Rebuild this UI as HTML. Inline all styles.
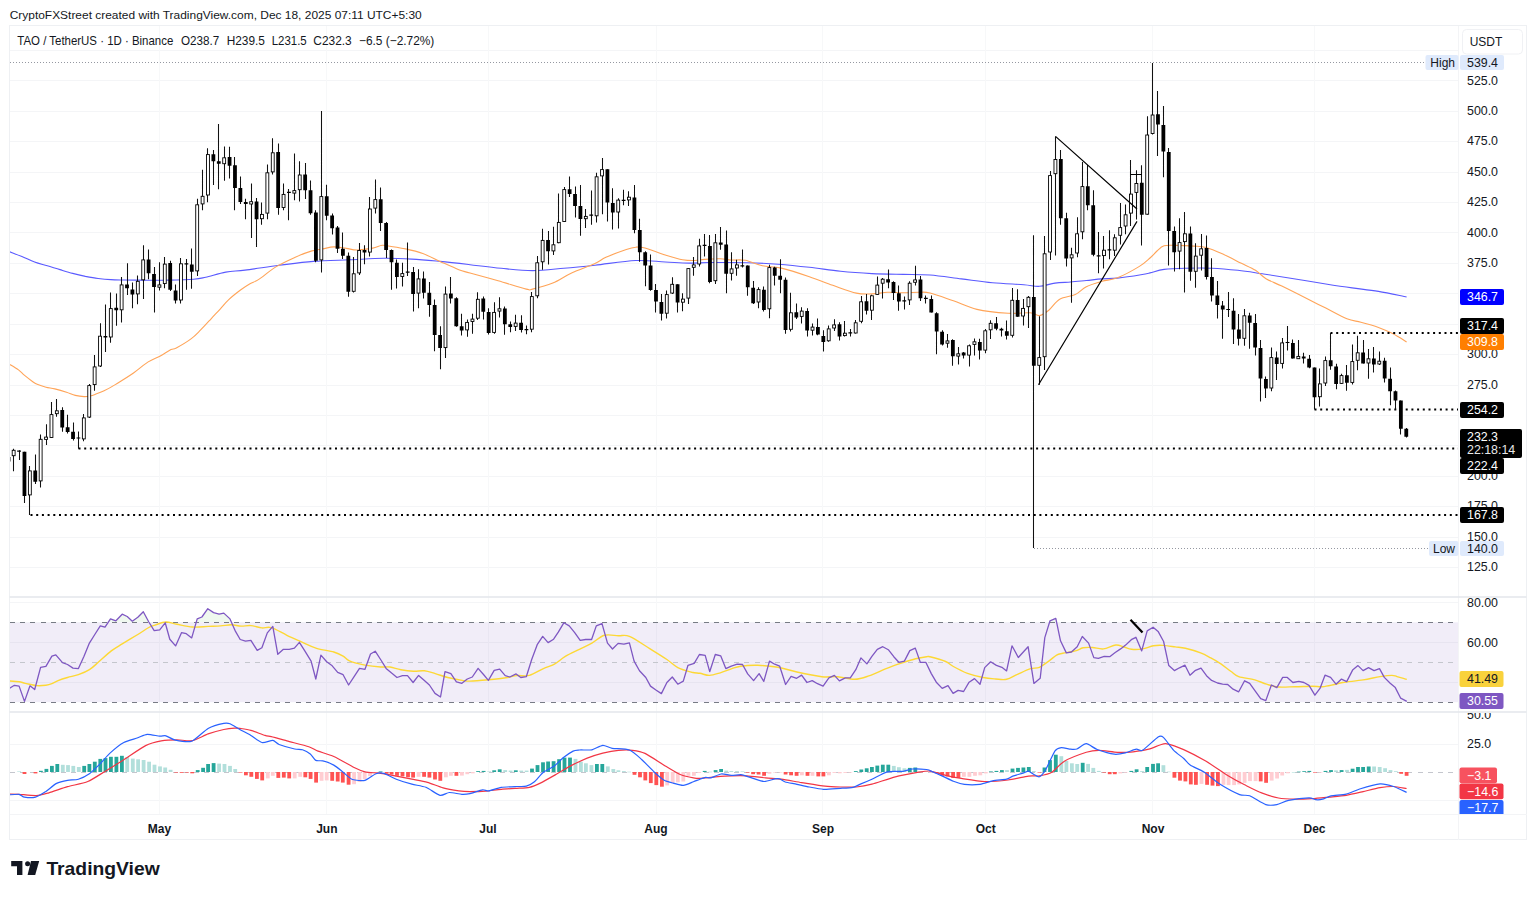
<!DOCTYPE html>
<html><head><meta charset="utf-8"><title>TAO / TetherUS chart</title>
<style>html,body{margin:0;padding:0;background:#fff;}body{width:1536px;height:897px;position:relative;overflow:hidden;font-family:"Liberation Sans",sans-serif;}</style>
</head><body>
<svg width="1536" height="897" viewBox="0 0 1536 897" style="position:absolute;left:0;top:0"><defs><clipPath id="cm"><rect x="10" y="26" width="1448" height="571"/></clipPath><clipPath id="cr"><rect x="10" y="598" width="1448" height="114"/></clipPath><clipPath id="cd"><rect x="10" y="713" width="1448" height="101"/></clipPath><clipPath id="cda"><rect x="1459" y="713" width="67" height="101"/></clipPath></defs><path d="M10 50.5H1458.5 M10 80.5H1458.5 M10 111.5H1458.5 M10 141.5H1458.5 M10 172.5H1458.5 M10 202.5H1458.5 M10 232.5H1458.5 M10 263.5H1458.5 M10 293.5H1458.5 M10 324.5H1458.5 M10 354.5H1458.5 M10 385.5H1458.5 M10 415.5H1458.5 M10 445.5H1458.5 M10 476.5H1458.5 M10 506.5H1458.5 M10 537.5H1458.5 M10 567.5H1458.5 M10 602.5H1458.5 M10 642.5H1458.5 M10 682.5H1458.5 M10 744.5H1458.5 M10 800.5H1458.5" stroke="#f4f5f7" stroke-width="1" fill="none" shape-rendering="crispEdges"/><path d="M159.5 26V814 M326.5 26V814 M488.5 26V814 M656.5 26V814 M822.5 26V814 M985.5 26V814 M1152.5 26V814 M1314.5 26V814" stroke="#f7f8f9" stroke-width="1" fill="none" shape-rendering="crispEdges"/><rect x="10" y="622.3" width="1448.5" height="79.9" fill="#7e57c2" fill-opacity="0.11"/><rect x="9.5" y="25.5" width="1517.0" height="814.0" fill="none" stroke="#eef0f3" stroke-width="1" shape-rendering="crispEdges"/><path d="M1458.5 25.5V839.5 M9.5 814.5H1526.5" stroke="#f3f4f6" stroke-width="1" shape-rendering="crispEdges"/><path d="M9.5 597H1526.5 M9.5 712H1526.5" stroke="#e3e6ec" stroke-width="1.6"/><path d="M10 622.5H1458 M10 702.5H1458" stroke="#787b86" stroke-width="1" stroke-dasharray="5 5.2" shape-rendering="crispEdges"/><path d="M10 662.5H1458" stroke="#c4c6cd" stroke-width="1" stroke-dasharray="5 5.2" shape-rendering="crispEdges"/><path d="M10 772.5H1458" stroke="#c4c6cd" stroke-width="1" stroke-dasharray="5 5.2" shape-rendering="crispEdges"/><path d="M10 62.5H1428" stroke="#9598a1" stroke-width="1" stroke-dasharray="1 2" shape-rendering="crispEdges"/><path d="M1034 548.5H1428" stroke="#9598a1" stroke-width="1" stroke-dasharray="1 2" shape-rendering="crispEdges"/><g clip-path="url(#cm)"><path d="M9.7,251.7C11.7,252.5 17.8,254.8 21.9,256.5C26.0,258.2 30.4,260.4 34.6,262.0C38.8,263.6 43.1,264.5 47.3,265.8C51.5,267.1 55.8,268.3 60.0,269.6C64.2,270.9 68.5,272.3 72.7,273.4C76.9,274.5 81.2,275.5 85.4,276.4C89.6,277.2 93.9,278.0 98.1,278.5C102.3,279.0 106.6,279.4 110.8,279.6C115.0,279.9 119.5,279.9 123.5,280.0C127.5,280.1 131.3,280.1 135.0,280.1C138.7,280.1 140.4,280.2 145.5,280.2C150.6,280.2 157.5,280.4 165.5,280.2C173.5,280.0 186.9,279.7 193.6,279.2C200.3,278.7 200.3,278.4 205.7,277.2C211.1,276.0 219.2,273.3 225.8,272.1C232.4,270.9 236.1,271.2 245.0,270.1C253.9,269.0 267.6,266.8 279.0,265.3C290.4,263.9 301.7,262.3 313.4,261.4C325.1,260.5 337.7,260.3 349.4,259.8C361.1,259.3 373.4,258.4 383.8,258.3C394.2,258.2 402.5,258.6 411.9,259.1C421.3,259.6 430.3,260.5 440.0,261.4C449.7,262.3 459.8,263.5 470.0,264.7C480.2,265.9 490.9,267.3 501.3,268.3C511.7,269.3 522.1,270.6 532.5,270.6C542.9,270.6 553.4,269.2 563.8,268.3C574.2,267.4 583.0,266.5 595.0,265.2C607.0,263.9 623.9,261.0 635.6,260.5C647.3,260.0 656.4,261.6 665.3,262.0C674.2,262.4 681.3,263.0 688.8,263.1C696.2,263.2 700.3,262.6 710.0,262.5C719.7,262.4 735.5,262.4 746.9,262.7C758.2,263.0 767.7,263.4 778.1,264.2C788.5,265.0 799.0,266.1 809.4,267.3C819.8,268.5 830.2,270.2 840.6,271.3C851.0,272.4 861.5,273.1 871.9,273.6C882.3,274.1 893.4,274.2 903.1,274.4C912.8,274.6 920.3,274.2 930.0,275.0C939.7,275.8 950.9,277.6 961.3,278.9C971.7,280.2 982.1,281.8 992.5,282.8C1002.9,283.8 1016.0,284.1 1023.8,284.7C1031.6,285.3 1034.2,286.6 1039.4,286.3C1044.6,286.0 1049.8,283.8 1055.0,283.1C1060.2,282.4 1065.4,282.4 1070.6,282.0C1075.8,281.6 1081.1,281.0 1086.3,280.5C1091.5,280.0 1096.7,279.3 1101.9,278.9C1107.1,278.5 1111.0,278.8 1117.5,278.1C1124.0,277.4 1135.5,275.6 1140.9,274.7C1146.3,273.8 1146.1,273.8 1150.0,272.9C1153.9,272.0 1158.2,270.2 1164.1,269.4C1170.0,268.6 1177.3,268.4 1185.2,268.2C1193.1,268.0 1202.7,267.8 1211.5,268.2C1220.3,268.6 1229.4,269.4 1237.9,270.3C1246.4,271.2 1253.7,272.5 1262.5,273.8C1271.3,275.1 1280.0,276.5 1290.6,278.2C1301.1,279.9 1315.5,282.4 1325.8,284.0C1336.0,285.6 1343.3,286.7 1352.1,287.9C1360.9,289.1 1369.4,289.9 1378.5,291.4C1387.6,292.9 1401.9,296.1 1406.6,297.0" fill="none" stroke="#5a5aff" stroke-width="1.1" stroke-linejoin="round" /><path d="M9.7,364.4C11.2,365.3 16.1,368.1 18.5,369.9C20.9,371.7 21.9,373.2 24.3,375.2C26.7,377.2 30.9,380.4 33.1,382.0C35.4,383.6 35.6,383.7 37.8,384.6C39.9,385.5 43.2,386.5 46.0,387.2C48.8,387.9 51.4,388.1 54.8,388.9C58.2,389.7 63.1,391.1 66.5,392.2C69.9,393.3 72.4,394.7 75.3,395.4C78.2,396.1 81.6,396.5 84.1,396.6C86.5,396.7 88.2,396.4 90.0,396.0C91.8,395.6 92.7,395.3 95.0,394.4C97.3,393.5 100.6,392.5 104.1,390.8C107.6,389.1 111.2,387.1 116.1,384.1C121.0,381.1 128.2,376.7 133.5,373.0C138.8,369.3 143.7,364.7 148.2,361.9C152.7,359.1 156.5,358.1 160.3,356.0C164.1,353.9 168.3,350.9 171.0,349.6C173.7,348.3 173.0,349.8 176.3,348.0C179.6,346.2 187.0,341.9 191.0,338.9C195.0,335.9 197.1,333.5 200.4,330.2C203.8,326.9 207.8,322.4 211.1,318.8C214.4,315.2 217.5,312.0 220.4,308.8C223.3,305.6 225.2,302.9 228.5,299.8C231.8,296.7 236.9,292.7 240.5,290.0C244.1,287.3 246.9,285.5 250.0,283.7C253.1,281.9 254.5,282.2 258.8,279.4C263.1,276.6 269.9,270.5 275.9,266.9C281.9,263.2 288.7,260.2 294.7,257.5C300.7,254.8 307.2,252.3 311.9,250.9C316.6,249.5 319.1,249.6 322.8,248.9C326.5,248.2 329.9,247.0 333.8,246.9C337.7,246.8 342.4,247.9 346.3,248.4C350.2,248.9 352.8,250.1 357.2,250.0C361.6,249.9 368.6,248.9 372.8,248.1C377.0,247.3 379.3,245.6 382.2,245.3C385.1,245.0 386.1,245.7 390.0,246.3C393.9,246.9 400.1,247.7 405.6,248.9C411.1,250.1 417.1,251.5 422.8,253.6C428.5,255.7 434.0,258.7 440.0,261.4C446.0,264.1 453.8,267.8 458.8,269.7C463.8,271.6 463.4,271.1 470.0,273.0C476.6,274.9 488.7,278.1 498.1,280.8C507.5,283.5 520.6,287.7 526.3,289.1C532.0,290.5 528.1,290.1 532.5,289.1C536.9,288.1 546.3,285.8 552.8,283.1C559.3,280.4 564.6,276.2 571.6,273.0C578.6,269.8 589.3,266.2 595.0,263.6C600.7,261.0 600.7,259.7 605.9,257.3C611.1,255.0 621.3,251.2 626.3,249.5C631.2,247.8 632.5,247.4 635.6,247.2C638.7,246.9 640.0,246.7 645.0,248.0C650.0,249.3 659.0,253.1 665.3,255.0C671.5,256.9 677.5,258.8 682.5,259.7C687.5,260.6 691.4,260.6 695.0,260.5C698.6,260.4 700.2,259.7 704.4,259.4C708.6,259.1 715.8,258.7 720.3,258.8C724.8,258.9 727.1,259.8 731.3,260.0C735.5,260.2 740.1,259.3 745.3,260.3C750.5,261.3 756.5,264.5 762.5,265.8C768.5,267.1 773.5,266.3 781.3,268.1C789.1,269.9 800.8,273.8 809.4,276.7C818.0,279.6 825.0,282.6 832.8,285.3C840.6,288.0 849.8,291.7 856.3,293.1C862.8,294.5 866.7,294.0 871.9,293.9C877.1,293.8 882.3,292.5 887.5,292.3C892.7,292.1 897.9,292.8 903.1,292.8C908.3,292.8 914.3,292.3 918.8,292.3C923.3,292.3 924.2,291.6 930.0,293.0C935.8,294.4 945.6,298.1 953.4,300.8C961.2,303.5 967.8,307.3 976.9,309.4C986.0,311.5 999.2,312.7 1008.1,313.3C1017.0,313.9 1024.8,312.4 1030.0,312.8C1035.2,313.2 1036.3,316.0 1039.4,315.6C1042.5,315.2 1045.4,312.9 1048.8,310.2C1052.2,307.5 1055.3,301.8 1059.7,299.2C1064.1,296.6 1070.9,296.6 1075.3,294.5C1079.7,292.4 1081.9,288.9 1086.3,286.7C1090.7,284.5 1096.7,282.8 1101.9,281.3C1107.1,279.8 1111.2,280.3 1117.5,277.8C1123.8,275.3 1134.0,269.7 1139.4,266.4C1144.8,263.1 1147.1,260.6 1150.0,258.0C1152.9,255.4 1154.7,253.1 1157.0,251.0C1159.3,248.9 1160.9,246.6 1164.1,245.7C1167.3,244.8 1171.4,245.3 1176.4,245.4C1181.4,245.5 1188.9,245.8 1193.9,246.1C1198.9,246.4 1201.2,246.1 1206.2,247.5C1211.2,248.9 1217.9,251.9 1223.8,254.5C1229.7,257.1 1236.1,260.7 1241.4,263.3C1246.7,265.9 1251.4,267.7 1255.5,270.3C1259.6,272.9 1261.6,276.1 1266.0,278.7C1270.4,281.3 1274.8,282.7 1281.8,286.1C1288.8,289.5 1300.9,295.6 1308.2,299.3C1315.5,303.0 1319.3,304.9 1325.8,308.1C1332.2,311.3 1341.1,316.4 1346.9,318.7C1352.8,321.0 1355.6,320.8 1360.9,322.2C1366.2,323.6 1373.2,325.5 1378.5,327.4C1383.8,329.3 1387.9,331.2 1392.6,333.6C1397.3,336.0 1404.3,340.6 1406.6,342.0" fill="none" stroke="#ffa458" stroke-width="1.1" stroke-linejoin="round" /><path d="M78.5 448.5H1458 M30.5 515H1458 M1314.5 409.6H1458 M1330.5 333H1458" stroke="#000" stroke-width="2" stroke-dasharray="2 3.7" fill="none"/><path d="M13.5 448.7V471.3 M19.5 450.3V460.0 M24.5 451.7V502.9 M29.5 466.0V514.9 M35.5 454.4V484.0 M40.5 434.4V487.5 M46.5 424.3V444.9 M51.5 402.0V437.9 M56.5 399.0V416.8 M62.5 407.3V431.8 M67.5 414.8V433.6 M73.5 422.4V440.4 M78.5 431.4V448.7 M83.5 414.1V441.2 M89.5 384.0V418.0 M94.5 355.0V390.8 M100.5 323.3V367.0 M105.5 304.6V351.9 M110.5 292.5V342.8 M116.5 293.6V325.8 M121.5 277.0V322.6 M127.5 263.3V295.1 M132.5 282.4V308.2 M137.5 275.6V304.2 M143.5 245.3V298.9 M148.5 249.5V279.2 M154.5 267.1V312.5 M159.5 262.2V290.4 M164.5 256.9V288.3 M170.5 260.7V291.0 M175.5 284.5V303.6 M180.5 258.0V303.6 M186.5 259.0V289.8 M191.5 248.5V288.7 M197.5 198.7V276.0 M202.5 169.7V210.3 M207.5 148.3V202.3 M213.5 150.0V184.9 M218.5 123.9V189.2 M224.5 146.4V180.7 M229.5 146.8V178.6 M234.5 157.0V210.3 M240.5 176.4V204.0 M245.5 198.7V219.2 M251.5 183.5V238.1 M256.5 198.0V247.0 M261.5 202.5V224.7 M267.5 164.6V219.2 M272.5 138.3V174.6 M278.5 143.4V214.7 M283.5 183.5V210.3 M288.5 189.1V220.3 M294.5 153.5V200.2 M299.5 161.3V201.4 M305.5 163.0V199.1 M310.5 180.6V214.7 M315.5 210.3V262.2 M321.5 111.1V272.6 M326.5 184.7V220.3 M332.5 213.6V234.6 M337.5 226.1V253.0 M342.5 232.5V259.0 M348.5 252.6V296.7 M353.5 256.9V292.5 M359.5 243.1V274.9 M364.5 245.2V264.3 M369.5 197.1V256.4 M375.5 179.5V213.4 M380.5 187.4V231.0 M386.5 221.9V257.9 M391.5 249.4V289.7 M396.5 259.4V288.6 M402.5 262.8V286.5 M407.5 242.5V275.9 M413.5 267.0V311.5 M418.5 269.3V308.3 M423.5 271.5V298.6 M429.5 281.9V316.7 M434.5 299.4V351.3 M440.5 326.2V369.2 M445.5 286.6V358.0 M450.5 276.9V303.6 M456.5 297.3V326.7 M461.5 313.7V335.4 M467.5 319.5V336.7 M472.5 313.7V333.7 M477.5 292.2V320.0 M483.5 296.6V319.5 M488.5 308.3V334.6 M494.5 302.3V333.7 M499.5 297.2V317.4 M504.5 306.4V334.7 M510.5 321.6V332.2 M515.5 314.8V331.1 M521.5 315.3V332.6 M526.5 325.4V334.3 M531.5 292.0V332.2 M537.5 255.9V298.3 M542.5 228.8V269.7 M548.5 230.9V264.4 M553.5 226.7V254.9 M558.5 193.4V243.2 M564.5 187.1V222.0 M569.5 176.5V197.0 M575.5 186.4V217.4 M580.5 185.0V235.8 M585.5 208.9V227.9 M591.5 190.4V224.7 M596.5 172.8V222.6 M602.5 158.0V214.2 M607.5 169.2V221.6 M612.5 188.3V229.4 M618.5 198.3V228.6 M623.5 189.8V205.3 M628.5 191.3V206.1 M634.5 184.9V233.2 M639.5 218.8V261.8 M645.5 251.2V286.2 M650.5 254.4V290.8 M655.5 284.1V312.6 M661.5 293.9V320.6 M666.5 290.6V318.6 M672.5 277.2V293.9 M677.5 284.3V312.6 M682.5 293.2V311.3 M688.5 268.2V303.9 M693.5 257.1V275.8 M699.5 238.8V266.5 M704.5 234.0V256.5 M709.5 235.1V283.2 M715.5 234.0V283.9 M720.5 227.0V249.8 M726.5 230.4V293.2 M731.5 252.2V280.5 M736.5 259.8V275.8 M742.5 249.6V267.6 M747.5 265.5V295.8 M753.5 281.1V303.9 M758.5 287.2V308.3 M763.5 286.5V311.5 M769.5 264.7V318.2 M774.5 266.8V285.5 M780.5 259.3V293.2 M785.5 277.5V333.7 M790.5 292.8V331.5 M796.5 303.5V319.0 M801.5 307.2V323.5 M807.5 308.3V336.4 M812.5 323.5V335.6 M817.5 318.6V335.2 M823.5 330.2V351.4 M828.5 325.4V341.7 M834.5 319.3V330.9 M839.5 322.3V340.5 M844.5 320.9V336.4 M850.5 329.1V336.4 M855.5 320.1V333.4 M861.5 296.0V323.3 M866.5 294.1V314.4 M871.5 294.8V319.9 M877.5 276.4V295.1 M882.5 278.0V298.4 M888.5 269.4V288.3 M893.5 281.3V300.0 M898.5 285.6V310.7 M904.5 296.5V309.4 M909.5 281.2V305.1 M915.5 265.8V285.6 M920.5 276.0V301.0 M925.5 295.6V303.6 M931.5 295.6V312.6 M936.5 312.3V354.2 M942.5 330.3V345.6 M947.5 334.1V347.8 M952.5 339.2V365.8 M958.5 346.9V364.5 M963.5 352.0V358.5 M969.5 344.6V366.4 M974.5 338.5V355.5 M979.5 338.7V359.6 M985.5 329.0V353.3 M990.5 320.2V338.9 M996.5 317.0V330.3 M1001.5 327.8V336.4 M1006.5 320.5V339.5 M1012.5 288.0V337.6 M1017.5 289.2V316.8 M1023.5 299.0V325.4 M1028.5 295.9V328.1 M1033.5 235.2V548.0 M1039.5 316.2V384.8 M1044.5 236.0V370.1 M1050.5 171.1V260.0 M1055.5 136.4V255.5 M1060.5 150.1V224.7 M1066.5 212.7V266.5 M1071.5 247.8V302.8 M1077.5 217.3V257.3 M1082.5 162.1V239.3 M1087.5 165.1V210.3 M1093.5 190.2V256.3 M1098.5 231.9V273.2 M1103.5 236.1V268.5 M1109.5 230.3V259.2 M1114.5 234.2V256.1 M1120.5 203.0V244.4 M1125.5 204.6V234.2 M1130.5 160.1V226.1 M1136.5 170.3V219.4 M1141.5 165.3V245.5 M1147.5 116.3V214.7 M1152.5 63.0V134.6 M1157.5 90.9V156.1 M1163.5 106.1V177.3 M1168.5 148.0V265.4 M1174.5 226.4V271.4 M1179.5 218.3V269.2 M1184.5 212.0V292.4 M1190.5 226.5V280.7 M1195.5 243.2V287.7 M1201.5 233.9V270.5 M1206.5 235.4V279.6 M1211.5 258.3V301.4 M1217.5 281.1V318.6 M1222.5 300.9V338.8 M1228.5 292.0V317.0 M1233.5 298.3V344.0 M1238.5 314.0V345.5 M1244.5 309.1V345.7 M1249.5 312.7V348.8 M1255.5 314.0V355.5 M1260.5 340.1V401.6 M1265.5 376.5V397.9 M1271.5 347.5V391.2 M1276.5 351.5V380.0 M1282.5 338.1V368.5 M1287.5 326.1V350.5 M1292.5 339.4V358.6 M1298.5 340.1V359.1 M1303.5 352.8V363.5 M1309.5 355.1V368.2 M1314.5 367.5V409.5 M1319.5 368.5V406.6 M1325.5 356.4V385.9 M1330.5 333.0V369.8 M1336.5 363.8V389.2 M1341.5 373.8V383.9 M1346.5 364.9V390.8 M1352.5 344.4V384.5 M1357.5 335.7V370.2 M1363.5 340.0V363.5 M1368.5 349.1V378.8 M1373.5 347.1V372.5 M1379.5 351.5V364.9 M1384.5 357.8V382.5 M1390.5 367.5V405.3 M1395.5 390.5V409.5 M1400.5 400.6V434.4 M1406.5 428.0V437.4" stroke="#111" stroke-width="1.05" fill="none"/><g fill="#fff" stroke="#000" stroke-width="0.9"><rect x="12.21" y="450.3" width="2.90" height="5.4"/><rect x="28.41" y="470.9" width="2.90" height="24.0"/><rect x="39.20" y="439.3" width="2.90" height="41.6"/><rect x="44.60" y="437.1" width="2.90" height="2.3"/><rect x="50.00" y="414.6" width="2.90" height="22.9"/><rect x="55.39" y="410.8" width="2.90" height="2.9"/><rect x="82.38" y="417.9" width="2.90" height="21.0"/><rect x="87.78" y="385.6" width="2.90" height="31.5"/><rect x="93.18" y="366.9" width="2.90" height="17.7"/><rect x="98.58" y="336.2" width="2.90" height="29.8"/><rect x="109.37" y="308.6" width="2.90" height="28.4"/><rect x="120.17" y="284.9" width="2.90" height="24.9"/><rect x="136.36" y="281.3" width="2.90" height="12.6"/><rect x="141.76" y="259.9" width="2.90" height="19.9"/><rect x="157.95" y="284.9" width="2.90" height="2.3"/><rect x="163.35" y="264.1" width="2.90" height="19.5"/><rect x="179.54" y="263.8" width="2.90" height="36.2"/><rect x="195.73" y="204.8" width="2.90" height="66.1"/><rect x="201.13" y="196.3" width="2.90" height="7.6"/><rect x="206.53" y="154.6" width="2.90" height="40.4"/><rect x="222.72" y="157.8" width="2.90" height="5.9"/><rect x="249.71" y="201.7" width="2.90" height="2.3"/><rect x="260.51" y="214.4" width="2.90" height="4.3"/><rect x="265.90" y="172.8" width="2.90" height="40.3"/><rect x="271.30" y="152.8" width="2.90" height="19.1"/><rect x="282.10" y="194.4" width="2.90" height="13.1"/><rect x="292.89" y="190.6" width="2.90" height="2.5"/><rect x="298.29" y="175.0" width="2.90" height="14.7"/><rect x="319.88" y="196.6" width="2.90" height="63.3"/><rect x="352.27" y="273.8" width="2.90" height="17.5"/><rect x="357.66" y="250.5" width="2.90" height="22.4"/><rect x="368.46" y="209.0" width="2.90" height="43.1"/><rect x="373.86" y="199.6" width="2.90" height="8.5"/><rect x="400.85" y="273.6" width="2.90" height="2.9"/><rect x="417.04" y="278.9" width="2.90" height="14.2"/><rect x="444.03" y="294.1" width="2.90" height="53.5"/><rect x="465.62" y="322.4" width="2.90" height="7.5"/><rect x="471.02" y="319.1" width="2.90" height="2.4"/><rect x="476.41" y="299.3" width="2.90" height="18.9"/><rect x="492.61" y="312.4" width="2.90" height="20.0"/><rect x="498.01" y="308.8" width="2.90" height="2.3"/><rect x="514.20" y="323.1" width="2.90" height="3.3"/><rect x="530.39" y="296.6" width="2.90" height="32.6"/><rect x="535.79" y="262.8" width="2.90" height="33.0"/><rect x="541.19" y="240.4" width="2.90" height="21.4"/><rect x="551.98" y="244.8" width="2.90" height="6.1"/><rect x="557.38" y="222.4" width="2.90" height="20.3"/><rect x="562.78" y="189.6" width="2.90" height="31.9"/><rect x="584.37" y="216.4" width="2.90" height="2.3"/><rect x="595.16" y="176.8" width="2.90" height="39.0"/><rect x="600.56" y="169.6" width="2.90" height="6.3"/><rect x="616.75" y="200.1" width="2.90" height="11.9"/><rect x="627.55" y="197.2" width="2.90" height="2.7"/><rect x="665.33" y="294.6" width="2.90" height="18.6"/><rect x="670.73" y="284.3" width="2.90" height="8.8"/><rect x="681.53" y="299.1" width="2.90" height="3.1"/><rect x="686.92" y="268.6" width="2.90" height="29.5"/><rect x="692.32" y="264.9" width="2.90" height="2.4"/><rect x="697.72" y="245.9" width="2.90" height="18.1"/><rect x="713.91" y="242.8" width="2.90" height="37.9"/><rect x="730.11" y="268.9" width="2.90" height="4.4"/><rect x="735.50" y="264.9" width="2.90" height="3.1"/><rect x="757.09" y="289.6" width="2.90" height="12.4"/><rect x="767.89" y="267.6" width="2.90" height="41.2"/><rect x="789.48" y="312.8" width="2.90" height="16.5"/><rect x="800.28" y="311.1" width="2.90" height="5.3"/><rect x="811.07" y="327.1" width="2.90" height="3.1"/><rect x="827.26" y="328.9" width="2.90" height="11.9"/><rect x="832.66" y="324.9" width="2.90" height="3.1"/><rect x="843.46" y="333.2" width="2.90" height="2.4"/><rect x="854.25" y="322.8" width="2.90" height="10.2"/><rect x="859.65" y="301.8" width="2.90" height="19.5"/><rect x="870.45" y="295.8" width="2.90" height="14.4"/><rect x="875.84" y="285.1" width="2.90" height="9.3"/><rect x="881.24" y="279.2" width="2.90" height="4.0"/><rect x="908.23" y="283.2" width="2.90" height="16.7"/><rect x="913.63" y="279.9" width="2.90" height="2.4"/><rect x="946.01" y="340.9" width="2.90" height="2.3"/><rect x="956.81" y="353.8" width="2.90" height="2.3"/><rect x="967.61" y="345.8" width="2.90" height="9.3"/><rect x="973.00" y="341.8" width="2.90" height="2.6"/><rect x="983.80" y="330.8" width="2.90" height="19.3"/><rect x="989.20" y="323.3" width="2.90" height="6.5"/><rect x="1010.79" y="300.3" width="2.90" height="35.0"/><rect x="1021.58" y="308.4" width="2.90" height="7.6"/><rect x="1026.98" y="297.3" width="2.90" height="9.4"/><rect x="1037.78" y="357.6" width="2.90" height="7.7"/><rect x="1043.17" y="253.8" width="2.90" height="102.9"/><rect x="1048.57" y="175.6" width="2.90" height="76.4"/><rect x="1053.97" y="159.5" width="2.90" height="14.2"/><rect x="1070.16" y="254.8" width="2.90" height="3.1"/><rect x="1075.56" y="233.8" width="2.90" height="19.2"/><rect x="1080.96" y="186.6" width="2.90" height="45.2"/><rect x="1102.55" y="250.2" width="2.90" height="5.4"/><rect x="1113.34" y="237.8" width="2.90" height="12.4"/><rect x="1118.74" y="227.6" width="2.90" height="7.7"/><rect x="1124.14" y="214.8" width="2.90" height="11.2"/><rect x="1129.54" y="194.1" width="2.90" height="19.0"/><rect x="1134.93" y="183.5" width="2.90" height="8.9"/><rect x="1145.73" y="135.0" width="2.90" height="79.2"/><rect x="1151.13" y="115.0" width="2.90" height="18.5"/><rect x="1178.12" y="242.6" width="2.90" height="8.5"/><rect x="1183.51" y="233.8" width="2.90" height="7.8"/><rect x="1194.31" y="256.1" width="2.90" height="15.2"/><rect x="1199.71" y="248.8" width="2.90" height="6.4"/><rect x="1242.89" y="315.8" width="2.90" height="22.5"/><rect x="1269.88" y="357.6" width="2.90" height="30.4"/><rect x="1280.67" y="342.9" width="2.90" height="20.5"/><rect x="1296.86" y="356.4" width="2.90" height="2.3"/><rect x="1318.46" y="383.9" width="2.90" height="12.8"/><rect x="1323.85" y="360.6" width="2.90" height="22.4"/><rect x="1340.05" y="375.6" width="2.90" height="7.8"/><rect x="1350.84" y="361.6" width="2.90" height="20.8"/><rect x="1356.24" y="352.8" width="2.90" height="7.5"/><rect x="1367.03" y="358.8" width="2.90" height="4.2"/><rect x="1377.83" y="361.2" width="2.90" height="2.8"/></g><path d="M17.16 450.6h3.8v1.2h-3.8z M22.56 451.7h3.8V496.1h-3.8z M33.35 470.5h3.8V481.8h-3.8z M60.34 409.9h3.8V427.6h-3.8z M65.74 427.3h3.8V432.1h-3.8z M71.14 431.8h3.8V438.9h-3.8z M76.53 437.4h3.8v1.2h-3.8z M103.52 336.0h3.8V337.5h-3.8z M114.32 307.8h3.8V310.3h-3.8z M125.11 284.5h3.8V288.3h-3.8z M130.51 289.4h3.8V294.4h-3.8z M146.70 259.5h3.8V273.3h-3.8z M152.10 273.9h3.8V287.0h-3.8z M168.30 263.0h3.8V289.8h-3.8z M173.69 290.4h3.8V300.4h-3.8z M184.49 263.2h3.8v1.2h-3.8z M189.89 264.4h3.8V271.8h-3.8z M211.48 154.2h3.8V161.2h-3.8z M216.87 161.2h3.8V163.7h-3.8z M227.67 157.0h3.8V165.8h-3.8z M233.07 165.2h3.8V188.1h-3.8z M238.47 188.1h3.8V201.9h-3.8z M243.86 201.9h3.8V204.0h-3.8z M254.66 201.4h3.8V219.2h-3.8z M276.25 151.9h3.8V208.0h-3.8z M287.04 191.8h3.8v1.2h-3.8z M303.24 174.6h3.8V190.2h-3.8z M308.64 190.2h3.8V213.2h-3.8z M314.03 212.5h3.8V260.8h-3.8z M324.83 196.2h3.8V215.8h-3.8z M330.23 215.5h3.8V228.3h-3.8z M335.62 227.6h3.8V248.8h-3.8z M341.02 248.8h3.8V255.8h-3.8z M346.42 255.8h3.8V291.8h-3.8z M362.61 250.1h3.8V252.6h-3.8z M378.81 199.2h3.8V223.0h-3.8z M384.20 223.0h3.8V250.1h-3.8z M389.60 250.1h3.8V262.2h-3.8z M395.00 262.8h3.8V277.0h-3.8z M405.79 271.5h3.8v1.2h-3.8z M411.19 272.1h3.8V293.9h-3.8z M421.99 278.5h3.8V292.7h-3.8z M427.38 292.7h3.8V305.0h-3.8z M432.78 305.0h3.8V335.1h-3.8z M438.18 335.1h3.8V348.0h-3.8z M448.98 293.6h3.8V298.6h-3.8z M454.37 298.3h3.8V326.2h-3.8z M459.77 326.2h3.8V330.4h-3.8z M481.36 298.6h3.8V311.7h-3.8z M486.76 312.0h3.8V332.9h-3.8z M502.95 308.5h3.8V324.2h-3.8z M508.35 324.2h3.8V326.9h-3.8z M519.15 322.7h3.8V330.1h-3.8z M524.54 329.1h3.8v1.2h-3.8z M546.13 240.0h3.8V251.3h-3.8z M567.73 189.2h3.8V194.1h-3.8z M573.12 194.1h3.8V206.1h-3.8z M578.52 206.1h3.8V218.9h-3.8z M589.32 214.6h3.8v1.2h-3.8z M605.51 169.2h3.8V202.5h-3.8z M610.91 203.1h3.8V212.5h-3.8z M621.70 199.7h3.8v1.2h-3.8z M632.50 197.6h3.8V230.0h-3.8z M637.90 230.0h3.8V252.3h-3.8z M643.29 252.3h3.8V265.4h-3.8z M648.69 265.4h3.8V290.0h-3.8z M654.09 290.0h3.8V301.4h-3.8z M659.49 301.9h3.8V313.7h-3.8z M675.68 284.3h3.8V302.6h-3.8z M702.67 244.7h3.8V246.0h-3.8z M708.07 246.0h3.8V281.9h-3.8z M718.86 242.4h3.8V244.7h-3.8z M724.26 244.4h3.8V273.8h-3.8z M740.45 265.3h3.8v1.2h-3.8z M745.85 265.5h3.8V287.2h-3.8z M751.25 287.8h3.8V303.2h-3.8z M762.04 289.8h3.8V309.9h-3.8z M772.84 267.4h3.8V275.8h-3.8z M778.24 275.8h3.8V279.8h-3.8z M783.63 279.8h3.8V329.9h-3.8z M794.43 312.3h3.8V317.6h-3.8z M805.22 311.0h3.8V330.6h-3.8z M816.02 327.0h3.8V334.6h-3.8z M821.42 336.0h3.8V342.0h-3.8z M837.61 324.2h3.8V336.4h-3.8z M848.41 332.2h3.8v1.2h-3.8z M864.60 301.3h3.8V310.7h-3.8z M886.19 279.2h3.8V282.5h-3.8z M891.59 282.1h3.8V292.9h-3.8z M896.98 293.2h3.8V301.5h-3.8z M902.38 300.2h3.8v1.2h-3.8z M918.58 279.5h3.8V298.2h-3.8z M923.97 297.8h3.8v1.2h-3.8z M929.37 299.1h3.8V312.6h-3.8z M934.77 313.2h3.8V331.5h-3.8z M940.17 331.8h3.8V344.6h-3.8z M950.96 340.1h3.8V356.2h-3.8z M961.76 352.6h3.8V355.5h-3.8z M977.95 342.0h3.8V350.5h-3.8z M994.14 323.2h3.8V328.8h-3.8z M999.54 328.8h3.8V330.5h-3.8z M1004.94 331.3h3.8V335.8h-3.8z M1015.73 299.9h3.8V316.8h-3.8z M1031.93 296.9h3.8V365.8h-3.8z M1058.92 159.1h3.8V218.3h-3.8z M1064.31 218.3h3.8V258.5h-3.8z M1085.90 186.2h3.8V205.2h-3.8z M1091.30 205.2h3.8V254.8h-3.8z M1096.70 255.2h3.8v1.2h-3.8z M1107.50 249.2h3.8v1.2h-3.8z M1139.88 182.8h3.8V214.7h-3.8z M1156.07 114.2h3.8V124.6h-3.8z M1161.47 124.9h3.8V151.6h-3.8z M1166.87 152.0h3.8V231.1h-3.8z M1172.27 231.1h3.8V252.2h-3.8z M1188.46 233.4h3.8V271.8h-3.8z M1204.65 247.9h3.8V277.1h-3.8z M1210.05 277.1h3.8V295.5h-3.8z M1215.45 295.5h3.8V305.1h-3.8z M1220.85 305.6h3.8V309.5h-3.8z M1226.24 308.9h3.8v1.2h-3.8z M1231.64 310.8h3.8V329.6h-3.8z M1237.04 329.4h3.8V338.8h-3.8z M1247.84 315.4h3.8V322.7h-3.8z M1253.23 323.0h3.8V347.5h-3.8z M1258.63 348.1h3.8V378.6h-3.8z M1264.03 378.9h3.8V388.5h-3.8z M1274.82 357.5h3.8V363.9h-3.8z M1285.62 341.9h3.8v1.2h-3.8z M1291.02 343.1h3.8V358.6h-3.8z M1301.81 356.4h3.8V358.6h-3.8z M1307.21 358.8h3.8V367.5h-3.8z M1312.61 367.5h3.8V397.2h-3.8z M1328.80 360.2h3.8V366.2h-3.8z M1334.20 366.5h3.8V383.9h-3.8z M1344.99 375.2h3.8V382.8h-3.8z M1361.19 352.4h3.8V363.5h-3.8z M1371.98 358.4h3.8V364.5h-3.8z M1382.78 360.8h3.8V378.5h-3.8z M1388.18 378.8h3.8V391.2h-3.8z M1393.57 391.2h3.8V400.6h-3.8z M1398.97 400.6h3.8V428.7h-3.8z M1404.37 428.7h3.8V436.7h-3.8z" fill="#000"/><rect x="9.4" y="457" width="1.4" height="4.5" fill="#777"/><path d="M1055.5 136.4L1137 209 M1038.5 384.8L1137 221.4 M1130.5 174.5H1142" stroke="#000" stroke-width="1.2" fill="none"/></g><g clip-path="url(#cr)"><clipPath id="ob"><rect x="10" y="598" width="1448" height="24.3"/></clipPath><polygon points="9.4,688.4 14.4,685.3 19.1,686.1 24.5,701.4 30.0,685.8 34.7,689.5 40.6,667.3 45.9,666.4 51.9,656.1 55.8,654.8 62.5,662.6 67.5,664.5 73.0,668.1 78.4,668.6 83.9,656.4 89.4,643.1 94.8,634.5 100.3,625.9 105.0,627.2 110.5,618.9 115.9,620.8 122.2,614.2 127.2,616.5 132.3,621.2 137.8,617.3 143.3,611.8 148.8,622.0 154.2,630.6 159.7,629.8 165.2,622.8 169.8,639.2 175.6,645.9 181.6,632.6 186.3,633.7 191.7,637.9 197.2,618.9 201.9,617.0 207.8,608.7 213.6,612.6 219.1,614.2 223.8,613.1 230.0,618.9 235.5,631.4 240.2,639.5 245.5,641.2 250.9,640.4 257.2,650.4 261.9,647.8 267.3,632.9 272.8,626.4 277.8,654.3 283.4,649.3 289.2,649.3 294.4,648.1 299.4,642.3 304.8,650.9 311.1,661.1 315.8,679.0 320.9,655.1 326.7,661.8 332.2,665.8 337.7,672.3 343.1,674.7 348.6,685.0 354.1,676.7 359.5,668.4 365.0,669.3 370.5,654.0 375.2,651.2 380.6,659.5 386.1,668.4 391.6,673.1 397.0,677.5 402.5,675.6 407.5,675.6 413.1,682.5 418.6,675.4 424.1,680.3 429.4,685.0 435.0,693.4 440.5,697.0 445.0,671.7 450.9,673.6 456.4,681.8 461.9,683.3 467.3,679.0 472.3,677.0 478.1,668.4 483.3,674.3 488.4,680.3 494.2,670.4 499.7,669.2 505.2,675.6 509.8,677.0 516.1,673.9 520.8,677.5 526.3,676.7 531.7,659.5 537.2,644.7 542.7,636.4 548.1,642.6 553.6,639.2 558.3,632.2 563.8,622.8 569.2,625.9 574.7,632.6 580.2,640.4 585.6,639.5 591.6,639.5 596.3,625.9 602.0,623.6 607.5,643.1 612.5,649.0 618.1,643.4 623.9,644.2 629.4,642.8 634.1,661.1 639.5,670.8 645.8,677.5 650.5,686.1 655.9,690.0 661.4,693.6 666.9,682.5 672.3,677.0 677.8,684.2 683.3,681.1 688.0,665.3 694.2,663.4 699.4,654.5 705.2,655.3 709.7,671.7 715.3,654.5 720.8,655.9 725.8,668.6 731.3,666.1 737.2,664.2 742.5,664.5 747.7,673.9 753.6,680.6 759.1,673.6 763.8,681.4 769.5,661.1 774.7,664.2 779.7,666.2 785.6,684.5 791.1,676.4 796.6,678.3 801.6,675.1 807.0,682.5 812.2,680.6 817.5,683.7 823.1,686.1 828.9,677.9 834.4,675.4 839.4,680.9 845.3,677.9 850.3,677.9 855.8,669.7 860.9,657.9 866.9,663.9 871.9,656.4 877.3,649.3 882.8,646.7 888.3,649.7 893.8,656.7 898.8,662.3 904.4,661.1 909.8,650.6 915.3,648.1 920.3,662.3 925.8,662.3 931.3,673.6 936.3,682.2 942.2,688.4 948.0,685.6 953.1,693.4 958.1,690.4 963.6,691.5 969.1,682.2 974.5,678.6 980.0,684.2 984.7,667.6 990.6,661.8 996.4,665.4 1001.9,667.3 1006.6,670.9 1012.0,645.8 1018.3,657.5 1028.1,646.7 1033.9,683.4 1040.2,678.3 1044.8,637.6 1050.0,620.8 1055.8,618.4 1060.5,640.8 1066.3,652.9 1071.4,652.0 1077.2,646.7 1082.3,636.5 1088.6,643.1 1093.8,657.6 1098.4,658.3 1104.2,656.4 1109.7,656.7 1115.2,652.5 1120.6,648.9 1125.6,645.1 1131.3,639.7 1135.9,637.3 1141.7,650.9 1147.2,630.9 1153.1,627.2 1158.1,631.4 1163.6,641.5 1168.8,665.6 1174.4,670.6 1179.5,667.8 1185.0,665.2 1190.0,675.2 1195.5,670.3 1201.0,668.1 1206.5,675.7 1211.6,680.4 1217.5,683.0 1222.6,684.2 1227.7,684.5 1233.1,689.2 1238.7,691.8 1244.6,680.8 1249.7,683.3 1255.1,690.9 1260.7,698.6 1265.8,700.6 1271.4,685.0 1276.8,687.6 1282.7,677.4 1287.3,677.4 1292.9,682.5 1298.8,681.3 1303.9,682.5 1309.0,685.4 1314.9,695.2 1320.0,688.4 1325.0,675.2 1330.6,677.4 1336.0,684.2 1341.5,679.1 1346.7,681.6 1352.6,670.1 1358.0,665.6 1363.1,670.6 1368.5,667.6 1374.1,670.6 1379.5,668.6 1384.3,677.4 1390.2,683.3 1395.3,687.6 1400.7,698.2 1406.8,701.4 1406.8,622.3 9.4,622.3" fill="#4caf50" fill-opacity="0.09" clip-path="url(#ob)"/><path d="M9.4,680.9C11.0,681.0 16.5,681.3 19.1,681.7C21.8,682.1 22.4,682.8 25.3,683.4C28.2,684.0 32.9,685.3 36.3,685.6C39.7,685.9 43.3,685.6 45.9,685.3C48.5,685.0 49.9,684.5 51.9,683.7C53.9,682.9 55.5,681.6 58.1,680.6C60.7,679.6 64.1,678.5 67.5,677.5C70.9,676.5 74.8,676.0 78.4,674.7C82.1,673.4 86.0,671.9 89.4,669.7C92.8,667.6 95.2,664.9 98.8,661.8C102.4,658.7 107.4,653.9 111.3,650.9C115.2,647.9 117.8,646.6 122.2,643.9C126.6,641.2 133.4,637.2 137.8,634.5C142.2,631.8 145.9,629.1 148.8,627.5C151.7,625.9 152.2,626.0 155.0,625.1C157.8,624.2 162.2,622.1 165.9,622.0C169.6,621.9 172.5,623.5 176.9,624.3C181.3,625.1 187.3,626.6 192.5,627.0C197.7,627.4 203.4,626.6 208.1,626.4C212.8,626.2 216.7,626.2 220.6,625.9C224.5,625.6 228.2,624.8 231.6,624.8C235.0,624.8 237.8,626.0 241.0,626.1C244.2,626.2 247.4,625.3 250.9,625.6C254.4,625.9 258.5,627.6 261.9,627.9C265.3,628.2 267.1,626.4 271.3,627.6C275.5,628.8 281.7,632.8 286.9,635.3C292.1,637.8 297.6,640.1 302.5,642.3C307.4,644.5 311.4,646.7 316.6,648.3C321.8,649.9 329.4,650.7 333.8,652.0C338.2,653.3 340.5,654.6 343.1,656.1C345.7,657.6 345.8,659.3 349.4,660.8C353.0,662.3 359.8,664.1 365.0,665.1C370.2,666.1 376.4,666.7 380.6,667.0C384.8,667.3 386.6,666.5 390.0,667.0C393.4,667.5 397.0,669.0 400.9,669.7C404.8,670.4 409.5,671.0 413.4,671.2C417.3,671.4 420.8,670.4 424.4,670.8C428.0,671.2 431.4,672.5 435.3,673.6C439.2,674.7 443.1,676.3 447.8,677.5C452.5,678.7 459.7,680.0 463.4,680.6C467.1,681.2 465.8,681.2 470.0,681.1C474.2,681.0 482.8,680.3 488.8,679.8C494.8,679.2 501.2,678.5 505.9,677.8C510.6,677.1 513.0,676.0 516.9,675.6C520.8,675.2 525.0,676.6 529.4,675.4C533.8,674.2 539.2,670.5 543.4,668.6C547.6,666.7 550.8,666.2 554.4,664.2C558.0,662.2 561.1,658.9 565.3,656.4C569.5,653.9 575.0,651.5 579.4,649.3C583.8,647.1 587.7,645.4 591.9,643.1C596.1,640.8 600.0,636.5 604.4,635.3C608.8,634.1 614.2,635.6 618.4,635.8C622.6,636.0 624.2,634.3 629.4,636.4C634.6,638.5 643.5,644.8 649.7,648.6C656.0,652.5 662.2,656.3 666.9,659.5C671.6,662.7 673.6,665.5 677.8,667.6C682.0,669.7 688.2,671.3 691.9,672.3C695.6,673.2 697.1,672.8 700.0,673.3C702.9,673.8 706.0,675.5 709.4,675.4C712.8,675.3 716.6,673.9 720.3,672.8C723.9,671.7 727.9,670.0 731.3,668.9C734.7,667.8 736.2,666.8 740.6,666.2C745.0,665.6 751.5,665.1 757.8,665.3C764.0,665.5 771.6,666.2 778.1,667.3C784.6,668.4 789.6,670.4 796.9,672.0C804.2,673.6 815.1,675.9 821.9,676.7C828.7,677.5 832.0,676.3 837.5,676.7C843.0,677.1 849.5,679.4 854.7,679.3C859.9,679.2 863.3,677.8 868.8,675.9C874.3,674.0 881.8,670.3 887.5,668.1C893.2,665.9 898.4,664.2 903.1,662.6C907.8,661.0 911.7,659.7 915.6,658.7C919.5,657.7 924.2,657.0 926.6,656.7C929.0,656.4 926.8,656.0 930.0,656.8C933.2,657.6 941.7,659.9 945.6,661.5C949.5,663.1 949.8,664.5 953.4,666.5C957.0,668.5 962.5,671.5 967.5,673.3C972.5,675.1 978.4,676.5 983.1,677.5C987.8,678.5 991.7,678.7 995.6,679.0C999.5,679.3 1003.0,680.1 1006.6,679.3C1010.2,678.5 1013.6,676.0 1017.5,674.3C1021.4,672.6 1026.3,670.1 1030.0,668.9C1033.7,667.7 1036.3,668.6 1039.4,667.3C1042.5,666.0 1045.9,663.1 1048.8,661.1C1051.7,659.1 1054.3,656.4 1056.6,655.1C1058.9,653.8 1059.7,654.0 1062.8,653.3C1065.9,652.6 1071.9,651.8 1075.3,650.9C1078.7,650.0 1080.2,648.4 1083.1,647.8C1086.0,647.2 1089.1,647.3 1092.5,647.5C1095.9,647.7 1099.5,649.3 1103.4,648.9C1107.3,648.5 1112.5,645.3 1115.9,645.0C1119.3,644.7 1121.2,646.3 1123.8,647.0C1126.4,647.7 1128.5,649.0 1131.6,649.3C1134.7,649.6 1138.9,649.5 1142.5,648.9C1146.1,648.3 1150.0,646.4 1153.4,645.8C1156.8,645.2 1159.2,645.2 1162.8,645.4C1166.4,645.6 1171.4,646.4 1175.2,646.9C1179.0,647.4 1181.2,647.3 1185.4,648.3C1189.6,649.3 1196.4,651.3 1200.6,652.9C1204.8,654.5 1207.4,656.1 1210.8,657.9C1214.2,659.7 1217.5,661.6 1220.9,663.9C1224.3,666.2 1228.1,669.4 1231.1,671.5C1234.1,673.6 1234.8,675.2 1238.7,676.6C1242.7,678.0 1250.2,678.6 1254.8,679.9C1259.4,681.2 1262.6,683.0 1266.6,684.2C1270.5,685.4 1273.7,686.6 1278.5,687.0C1283.3,687.4 1289.8,686.8 1295.4,686.7C1301.0,686.6 1307.8,686.2 1312.3,686.2C1316.8,686.2 1318.8,687.0 1322.5,686.7C1326.2,686.4 1330.9,685.2 1334.3,684.5C1337.7,683.8 1338.0,683.3 1342.8,682.5C1347.6,681.7 1356.9,680.9 1363.1,679.9C1369.3,678.9 1375.2,677.4 1380.0,676.6C1384.8,675.9 1389.1,675.4 1391.9,675.4C1394.7,675.4 1394.5,675.9 1397.0,676.6C1399.5,677.3 1405.2,678.9 1406.8,679.4" fill="none" stroke="#fdd835" stroke-width="1.4" stroke-linejoin="round" /><polyline points="9.4,688.4 14.4,685.3 19.1,686.1 24.5,701.4 30.0,685.8 34.7,689.5 40.6,667.3 45.9,666.4 51.9,656.1 55.8,654.8 62.5,662.6 67.5,664.5 73.0,668.1 78.4,668.6 83.9,656.4 89.4,643.1 94.8,634.5 100.3,625.9 105.0,627.2 110.5,618.9 115.9,620.8 122.2,614.2 127.2,616.5 132.3,621.2 137.8,617.3 143.3,611.8 148.8,622.0 154.2,630.6 159.7,629.8 165.2,622.8 169.8,639.2 175.6,645.9 181.6,632.6 186.3,633.7 191.7,637.9 197.2,618.9 201.9,617.0 207.8,608.7 213.6,612.6 219.1,614.2 223.8,613.1 230.0,618.9 235.5,631.4 240.2,639.5 245.5,641.2 250.9,640.4 257.2,650.4 261.9,647.8 267.3,632.9 272.8,626.4 277.8,654.3 283.4,649.3 289.2,649.3 294.4,648.1 299.4,642.3 304.8,650.9 311.1,661.1 315.8,679.0 320.9,655.1 326.7,661.8 332.2,665.8 337.7,672.3 343.1,674.7 348.6,685.0 354.1,676.7 359.5,668.4 365.0,669.3 370.5,654.0 375.2,651.2 380.6,659.5 386.1,668.4 391.6,673.1 397.0,677.5 402.5,675.6 407.5,675.6 413.1,682.5 418.6,675.4 424.1,680.3 429.4,685.0 435.0,693.4 440.5,697.0 445.0,671.7 450.9,673.6 456.4,681.8 461.9,683.3 467.3,679.0 472.3,677.0 478.1,668.4 483.3,674.3 488.4,680.3 494.2,670.4 499.7,669.2 505.2,675.6 509.8,677.0 516.1,673.9 520.8,677.5 526.3,676.7 531.7,659.5 537.2,644.7 542.7,636.4 548.1,642.6 553.6,639.2 558.3,632.2 563.8,622.8 569.2,625.9 574.7,632.6 580.2,640.4 585.6,639.5 591.6,639.5 596.3,625.9 602.0,623.6 607.5,643.1 612.5,649.0 618.1,643.4 623.9,644.2 629.4,642.8 634.1,661.1 639.5,670.8 645.8,677.5 650.5,686.1 655.9,690.0 661.4,693.6 666.9,682.5 672.3,677.0 677.8,684.2 683.3,681.1 688.0,665.3 694.2,663.4 699.4,654.5 705.2,655.3 709.7,671.7 715.3,654.5 720.8,655.9 725.8,668.6 731.3,666.1 737.2,664.2 742.5,664.5 747.7,673.9 753.6,680.6 759.1,673.6 763.8,681.4 769.5,661.1 774.7,664.2 779.7,666.2 785.6,684.5 791.1,676.4 796.6,678.3 801.6,675.1 807.0,682.5 812.2,680.6 817.5,683.7 823.1,686.1 828.9,677.9 834.4,675.4 839.4,680.9 845.3,677.9 850.3,677.9 855.8,669.7 860.9,657.9 866.9,663.9 871.9,656.4 877.3,649.3 882.8,646.7 888.3,649.7 893.8,656.7 898.8,662.3 904.4,661.1 909.8,650.6 915.3,648.1 920.3,662.3 925.8,662.3 931.3,673.6 936.3,682.2 942.2,688.4 948.0,685.6 953.1,693.4 958.1,690.4 963.6,691.5 969.1,682.2 974.5,678.6 980.0,684.2 984.7,667.6 990.6,661.8 996.4,665.4 1001.9,667.3 1006.6,670.9 1012.0,645.8 1018.3,657.5 1028.1,646.7 1033.9,683.4 1040.2,678.3 1044.8,637.6 1050.0,620.8 1055.8,618.4 1060.5,640.8 1066.3,652.9 1071.4,652.0 1077.2,646.7 1082.3,636.5 1088.6,643.1 1093.8,657.6 1098.4,658.3 1104.2,656.4 1109.7,656.7 1115.2,652.5 1120.6,648.9 1125.6,645.1 1131.3,639.7 1135.9,637.3 1141.7,650.9 1147.2,630.9 1153.1,627.2 1158.1,631.4 1163.6,641.5 1168.8,665.6 1174.4,670.6 1179.5,667.8 1185.0,665.2 1190.0,675.2 1195.5,670.3 1201.0,668.1 1206.5,675.7 1211.6,680.4 1217.5,683.0 1222.6,684.2 1227.7,684.5 1233.1,689.2 1238.7,691.8 1244.6,680.8 1249.7,683.3 1255.1,690.9 1260.7,698.6 1265.8,700.6 1271.4,685.0 1276.8,687.6 1282.7,677.4 1287.3,677.4 1292.9,682.5 1298.8,681.3 1303.9,682.5 1309.0,685.4 1314.9,695.2 1320.0,688.4 1325.0,675.2 1330.6,677.4 1336.0,684.2 1341.5,679.1 1346.7,681.6 1352.6,670.1 1358.0,665.6 1363.1,670.6 1368.5,667.6 1374.1,670.6 1379.5,668.6 1384.3,677.4 1390.2,683.3 1395.3,687.6 1400.7,698.2 1406.8,701.4" fill="none" stroke="#7e57c2" stroke-width="1.3" stroke-linejoin="round" /><path d="M1130.5 619.7L1142.5 632.6" stroke="#000" stroke-width="2.2"/></g><g clip-path="url(#cd)"><rect x="17.20" y="771.4" width="3.8" height="0.6" fill="#b2dfdb"/><rect x="22.60" y="772.0" width="3.8" height="2.0" fill="#ff5252"/><rect x="33.60" y="772.0" width="3.8" height="1.4" fill="#ff5252"/><rect x="39.00" y="770.8" width="3.8" height="1.2" fill="#26a69a"/><rect x="44.50" y="768.9" width="3.8" height="3.1" fill="#26a69a"/><rect x="50.00" y="765.9" width="3.8" height="6.1" fill="#26a69a"/><rect x="55.40" y="764.0" width="3.8" height="8.0" fill="#26a69a"/><rect x="60.90" y="764.8" width="3.8" height="7.2" fill="#b2dfdb"/><rect x="66.10" y="765.1" width="3.8" height="6.9" fill="#b2dfdb"/><rect x="71.40" y="765.9" width="3.8" height="6.1" fill="#b2dfdb"/><rect x="76.90" y="767.0" width="3.8" height="5.0" fill="#b2dfdb"/><rect x="82.30" y="765.9" width="3.8" height="6.1" fill="#26a69a"/><rect x="87.50" y="764.0" width="3.8" height="8.0" fill="#26a69a"/><rect x="92.90" y="761.7" width="3.8" height="10.3" fill="#26a69a"/><rect x="98.40" y="758.9" width="3.8" height="13.1" fill="#26a69a"/><rect x="103.60" y="758.1" width="3.8" height="13.9" fill="#26a69a"/><rect x="109.00" y="756.8" width="3.8" height="15.2" fill="#26a69a"/><rect x="114.50" y="756.8" width="3.8" height="15.2" fill="#26a69a"/><rect x="120.00" y="755.8" width="3.8" height="16.2" fill="#26a69a"/><rect x="125.30" y="757.0" width="3.8" height="15.0" fill="#b2dfdb"/><rect x="130.90" y="758.6" width="3.8" height="13.4" fill="#b2dfdb"/><rect x="136.20" y="759.3" width="3.8" height="12.7" fill="#b2dfdb"/><rect x="141.70" y="760.0" width="3.8" height="12.0" fill="#b2dfdb"/><rect x="147.20" y="761.7" width="3.8" height="10.3" fill="#b2dfdb"/><rect x="152.60" y="764.7" width="3.8" height="7.3" fill="#b2dfdb"/><rect x="158.10" y="766.4" width="3.8" height="5.6" fill="#b2dfdb"/><rect x="163.30" y="767.5" width="3.8" height="4.5" fill="#b2dfdb"/><rect x="168.70" y="769.8" width="3.8" height="2.2" fill="#b2dfdb"/><rect x="174.20" y="772.0" width="3.8" height="0.6" fill="#ff5252"/><rect x="179.70" y="772.0" width="3.8" height="0.8" fill="#ff5252"/><rect x="185.10" y="772.0" width="3.8" height="0.6" fill="#ff5252"/><rect x="190.30" y="772.0" width="3.8" height="1.3" fill="#ff5252"/><rect x="195.80" y="770.1" width="3.8" height="1.9" fill="#26a69a"/><rect x="201.20" y="767.8" width="3.8" height="4.2" fill="#26a69a"/><rect x="206.20" y="764.0" width="3.8" height="8.0" fill="#26a69a"/><rect x="211.70" y="763.1" width="3.8" height="8.9" fill="#26a69a"/><rect x="217.20" y="763.6" width="3.8" height="8.4" fill="#b2dfdb"/><rect x="222.60" y="764.0" width="3.8" height="8.0" fill="#b2dfdb"/><rect x="228.10" y="765.9" width="3.8" height="6.1" fill="#b2dfdb"/><rect x="233.30" y="769.0" width="3.8" height="3.0" fill="#b2dfdb"/><rect x="238.70" y="772.0" width="3.8" height="0.6" fill="#ff5252"/><rect x="244.00" y="772.0" width="3.8" height="3.3" fill="#ff5252"/><rect x="249.40" y="772.0" width="3.8" height="4.8" fill="#ff5252"/><rect x="255.00" y="772.0" width="3.8" height="6.9" fill="#ff5252"/><rect x="260.30" y="772.0" width="3.8" height="8.4" fill="#ff5252"/><rect x="265.90" y="772.0" width="3.8" height="6.4" fill="#ffcdd2"/><rect x="270.90" y="772.0" width="3.8" height="3.8" fill="#ffcdd2"/><rect x="276.40" y="772.0" width="3.8" height="5.9" fill="#ff5252"/><rect x="281.90" y="772.0" width="3.8" height="5.6" fill="#ff5252"/><rect x="287.30" y="772.0" width="3.8" height="6.4" fill="#ff5252"/><rect x="292.80" y="772.0" width="3.8" height="6.4" fill="#ffcdd2"/><rect x="298.30" y="772.0" width="3.8" height="4.8" fill="#ffcdd2"/><rect x="303.40" y="772.0" width="3.8" height="5.3" fill="#ff5252"/><rect x="308.70" y="772.0" width="3.8" height="6.9" fill="#ff5252"/><rect x="314.20" y="772.0" width="3.8" height="10.6" fill="#ff5252"/><rect x="319.70" y="772.0" width="3.8" height="8.8" fill="#ffcdd2"/><rect x="324.80" y="772.0" width="3.8" height="8.4" fill="#ffcdd2"/><rect x="330.30" y="772.0" width="3.8" height="8.8" fill="#ff5252"/><rect x="335.80" y="772.0" width="3.8" height="9.5" fill="#ff5252"/><rect x="340.90" y="772.0" width="3.8" height="10.6" fill="#ff5252"/><rect x="346.70" y="772.0" width="3.8" height="12.7" fill="#ff5252"/><rect x="352.20" y="772.0" width="3.8" height="12.2" fill="#ffcdd2"/><rect x="357.60" y="772.0" width="3.8" height="10.0" fill="#ffcdd2"/><rect x="362.80" y="772.0" width="3.8" height="7.2" fill="#ffcdd2"/><rect x="368.10" y="772.0" width="3.8" height="4.1" fill="#ffcdd2"/><rect x="373.70" y="772.0" width="3.8" height="1.7" fill="#ffcdd2"/><rect x="378.70" y="771.4" width="3.8" height="0.6" fill="#26a69a"/><rect x="384.70" y="772.0" width="3.8" height="1.7" fill="#ff5252"/><rect x="389.70" y="772.0" width="3.8" height="2.5" fill="#ff5252"/><rect x="395.10" y="772.0" width="3.8" height="3.8" fill="#ff5252"/><rect x="400.60" y="772.0" width="3.8" height="4.4" fill="#ff5252"/><rect x="406.10" y="772.0" width="3.8" height="5.3" fill="#ff5252"/><rect x="411.20" y="772.0" width="3.8" height="5.6" fill="#ff5252"/><rect x="416.70" y="772.0" width="3.8" height="4.8" fill="#ffcdd2"/><rect x="422.20" y="772.0" width="3.8" height="4.8" fill="#ff5252"/><rect x="427.50" y="772.0" width="3.8" height="5.6" fill="#ff5252"/><rect x="433.10" y="772.0" width="3.8" height="7.5" fill="#ff5252"/><rect x="438.40" y="772.0" width="3.8" height="8.8" fill="#ff5252"/><rect x="444.00" y="772.0" width="3.8" height="5.3" fill="#ffcdd2"/><rect x="449.00" y="772.0" width="3.8" height="3.8" fill="#ffcdd2"/><rect x="454.50" y="772.0" width="3.8" height="3.8" fill="#ff5252"/><rect x="460.00" y="772.0" width="3.8" height="3.6" fill="#ffcdd2"/><rect x="465.40" y="772.0" width="3.8" height="2.2" fill="#ffcdd2"/><rect x="470.90" y="772.0" width="3.8" height="1.3" fill="#ffcdd2"/><rect x="476.20" y="771.1" width="3.8" height="0.9" fill="#26a69a"/><rect x="481.70" y="770.9" width="3.8" height="1.1" fill="#26a69a"/><rect x="487.20" y="771.4" width="3.8" height="0.6" fill="#b2dfdb"/><rect x="492.30" y="770.3" width="3.8" height="1.7" fill="#26a69a"/><rect x="497.80" y="769.3" width="3.8" height="2.7" fill="#26a69a"/><rect x="503.30" y="770.1" width="3.8" height="1.9" fill="#b2dfdb"/><rect x="508.70" y="770.6" width="3.8" height="1.4" fill="#b2dfdb"/><rect x="513.90" y="770.3" width="3.8" height="1.7" fill="#26a69a"/><rect x="519.40" y="770.6" width="3.8" height="1.4" fill="#b2dfdb"/><rect x="524.70" y="770.6" width="3.8" height="1.4" fill="#b2dfdb"/><rect x="530.10" y="768.6" width="3.8" height="3.4" fill="#26a69a"/><rect x="535.60" y="765.1" width="3.8" height="6.9" fill="#26a69a"/><rect x="541.10" y="762.3" width="3.8" height="9.7" fill="#26a69a"/><rect x="546.20" y="761.5" width="3.8" height="10.5" fill="#26a69a"/><rect x="551.70" y="761.2" width="3.8" height="10.8" fill="#26a69a"/><rect x="557.20" y="759.2" width="3.8" height="12.8" fill="#26a69a"/><rect x="562.60" y="757.6" width="3.8" height="14.4" fill="#26a69a"/><rect x="568.10" y="757.6" width="3.8" height="14.4" fill="#26a69a"/><rect x="573.60" y="758.9" width="3.8" height="13.1" fill="#b2dfdb"/><rect x="579.00" y="761.7" width="3.8" height="10.3" fill="#b2dfdb"/><rect x="584.00" y="763.3" width="3.8" height="8.7" fill="#b2dfdb"/><rect x="589.50" y="765.1" width="3.8" height="6.9" fill="#b2dfdb"/><rect x="595.00" y="764.0" width="3.8" height="8.0" fill="#26a69a"/><rect x="600.40" y="764.0" width="3.8" height="8.0" fill="#26a69a"/><rect x="605.90" y="766.4" width="3.8" height="5.6" fill="#b2dfdb"/><rect x="611.40" y="769.0" width="3.8" height="3.0" fill="#b2dfdb"/><rect x="616.50" y="770.3" width="3.8" height="1.7" fill="#b2dfdb"/><rect x="622.00" y="771.1" width="3.8" height="0.9" fill="#b2dfdb"/><rect x="627.20" y="771.7" width="3.8" height="0.6" fill="#b2dfdb"/><rect x="632.60" y="772.0" width="3.8" height="2.8" fill="#ff5252"/><rect x="638.10" y="772.0" width="3.8" height="5.3" fill="#ff5252"/><rect x="643.40" y="772.0" width="3.8" height="8.4" fill="#ff5252"/><rect x="648.90" y="772.0" width="3.8" height="11.1" fill="#ff5252"/><rect x="654.40" y="772.0" width="3.8" height="13.1" fill="#ff5252"/><rect x="660.00" y="772.0" width="3.8" height="14.7" fill="#ff5252"/><rect x="665.30" y="772.0" width="3.8" height="13.4" fill="#ffcdd2"/><rect x="670.80" y="772.0" width="3.8" height="11.1" fill="#ffcdd2"/><rect x="675.90" y="772.0" width="3.8" height="10.3" fill="#ffcdd2"/><rect x="681.40" y="772.0" width="3.8" height="9.5" fill="#ffcdd2"/><rect x="686.50" y="772.0" width="3.8" height="3.8" fill="#ffcdd2"/><rect x="692.00" y="772.0" width="3.8" height="3.8" fill="#ffcdd2"/><rect x="697.30" y="772.0" width="3.8" height="0.9" fill="#ffcdd2"/><rect x="702.80" y="770.9" width="3.8" height="1.1" fill="#26a69a"/><rect x="708.30" y="771.7" width="3.8" height="0.6" fill="#b2dfdb"/><rect x="713.70" y="770.1" width="3.8" height="1.9" fill="#26a69a"/><rect x="719.20" y="769.0" width="3.8" height="3.0" fill="#26a69a"/><rect x="724.40" y="770.6" width="3.8" height="1.4" fill="#b2dfdb"/><rect x="729.40" y="771.1" width="3.8" height="0.9" fill="#b2dfdb"/><rect x="735.10" y="771.1" width="3.8" height="0.9" fill="#b2dfdb"/><rect x="740.60" y="771.4" width="3.8" height="0.6" fill="#b2dfdb"/><rect x="745.80" y="772.0" width="3.8" height="0.6" fill="#ff5252"/><rect x="751.20" y="772.0" width="3.8" height="2.2" fill="#ff5252"/><rect x="756.70" y="772.0" width="3.8" height="2.5" fill="#ff5252"/><rect x="762.20" y="772.0" width="3.8" height="3.8" fill="#ff5252"/><rect x="767.60" y="772.0" width="3.8" height="1.7" fill="#ffcdd2"/><rect x="773.10" y="772.0" width="3.8" height="0.6" fill="#ffcdd2"/><rect x="778.60" y="772.0" width="3.8" height="0.6" fill="#ffcdd2"/><rect x="783.70" y="772.0" width="3.8" height="2.5" fill="#ff5252"/><rect x="789.20" y="772.0" width="3.8" height="3.3" fill="#ff5252"/><rect x="794.70" y="772.0" width="3.8" height="3.8" fill="#ff5252"/><rect x="800.00" y="772.0" width="3.8" height="3.3" fill="#ffcdd2"/><rect x="805.60" y="772.0" width="3.8" height="3.8" fill="#ff5252"/><rect x="810.60" y="772.0" width="3.8" height="3.8" fill="#ffcdd2"/><rect x="816.40" y="772.0" width="3.8" height="4.4" fill="#ff5252"/><rect x="821.50" y="772.0" width="3.8" height="4.4" fill="#ff5252"/><rect x="827.00" y="772.0" width="3.8" height="3.3" fill="#ffcdd2"/><rect x="832.50" y="772.0" width="3.8" height="0.9" fill="#ffcdd2"/><rect x="837.90" y="772.0" width="3.8" height="1.3" fill="#ffcdd2"/><rect x="843.40" y="772.0" width="3.8" height="0.9" fill="#ffcdd2"/><rect x="848.40" y="772.0" width="3.8" height="0.6" fill="#ffcdd2"/><rect x="853.90" y="771.1" width="3.8" height="0.9" fill="#26a69a"/><rect x="859.40" y="769.5" width="3.8" height="2.5" fill="#26a69a"/><rect x="864.80" y="768.3" width="3.8" height="3.7" fill="#26a69a"/><rect x="870.00" y="767.0" width="3.8" height="5.0" fill="#26a69a"/><rect x="875.40" y="765.6" width="3.8" height="6.4" fill="#26a69a"/><rect x="880.90" y="764.7" width="3.8" height="7.3" fill="#26a69a"/><rect x="886.40" y="764.7" width="3.8" height="7.3" fill="#26a69a"/><rect x="891.90" y="765.9" width="3.8" height="6.1" fill="#b2dfdb"/><rect x="897.00" y="767.2" width="3.8" height="4.8" fill="#b2dfdb"/><rect x="902.50" y="768.3" width="3.8" height="3.7" fill="#b2dfdb"/><rect x="907.90" y="767.9" width="3.8" height="4.1" fill="#26a69a"/><rect x="913.40" y="767.5" width="3.8" height="4.5" fill="#26a69a"/><rect x="918.70" y="771.1" width="3.8" height="0.9" fill="#b2dfdb"/><rect x="924.20" y="771.4" width="3.8" height="0.6" fill="#b2dfdb"/><rect x="929.40" y="772.0" width="3.8" height="0.6" fill="#ffcdd2"/><rect x="934.70" y="772.0" width="3.8" height="1.3" fill="#ff5252"/><rect x="940.30" y="772.0" width="3.8" height="3.8" fill="#ff5252"/><rect x="945.60" y="772.0" width="3.8" height="4.4" fill="#ff5252"/><rect x="951.20" y="772.0" width="3.8" height="5.9" fill="#ff5252"/><rect x="956.50" y="772.0" width="3.8" height="5.9" fill="#ff5252"/><rect x="962.00" y="772.0" width="3.8" height="4.8" fill="#ffcdd2"/><rect x="967.50" y="772.0" width="3.8" height="4.8" fill="#ffcdd2"/><rect x="973.10" y="772.0" width="3.8" height="3.8" fill="#ffcdd2"/><rect x="978.40" y="772.0" width="3.8" height="3.3" fill="#ffcdd2"/><rect x="983.90" y="772.0" width="3.8" height="1.4" fill="#ffcdd2"/><rect x="989.00" y="771.4" width="3.8" height="0.6" fill="#26a69a"/><rect x="994.50" y="770.9" width="3.8" height="1.1" fill="#26a69a"/><rect x="1000.00" y="770.1" width="3.8" height="1.9" fill="#26a69a"/><rect x="1005.10" y="770.1" width="3.8" height="1.9" fill="#b2dfdb"/><rect x="1010.60" y="768.6" width="3.8" height="3.4" fill="#26a69a"/><rect x="1016.10" y="767.9" width="3.8" height="4.1" fill="#26a69a"/><rect x="1021.50" y="767.5" width="3.8" height="4.5" fill="#26a69a"/><rect x="1026.90" y="767.0" width="3.8" height="5.0" fill="#26a69a"/><rect x="1032.00" y="771.1" width="3.8" height="0.9" fill="#b2dfdb"/><rect x="1037.50" y="772.0" width="3.8" height="0.6" fill="#ff5252"/><rect x="1042.60" y="767.5" width="3.8" height="4.5" fill="#26a69a"/><rect x="1048.10" y="760.1" width="3.8" height="11.9" fill="#26a69a"/><rect x="1053.90" y="754.7" width="3.8" height="17.3" fill="#26a69a"/><rect x="1059.40" y="756.2" width="3.8" height="15.8" fill="#b2dfdb"/><rect x="1064.50" y="760.8" width="3.8" height="11.2" fill="#b2dfdb"/><rect x="1070.00" y="763.3" width="3.8" height="8.7" fill="#b2dfdb"/><rect x="1075.30" y="764.0" width="3.8" height="8.0" fill="#b2dfdb"/><rect x="1080.80" y="762.8" width="3.8" height="9.2" fill="#26a69a"/><rect x="1086.20" y="763.9" width="3.8" height="8.1" fill="#b2dfdb"/><rect x="1091.40" y="767.9" width="3.8" height="4.1" fill="#b2dfdb"/><rect x="1096.90" y="770.9" width="3.8" height="1.1" fill="#b2dfdb"/><rect x="1102.30" y="772.0" width="3.8" height="0.6" fill="#ff5252"/><rect x="1107.80" y="772.0" width="3.8" height="2.2" fill="#ff5252"/><rect x="1112.90" y="772.0" width="3.8" height="2.2" fill="#ff5252"/><rect x="1118.40" y="772.0" width="3.8" height="1.4" fill="#ffcdd2"/><rect x="1123.70" y="772.0" width="3.8" height="0.6" fill="#ffcdd2"/><rect x="1129.40" y="770.9" width="3.8" height="1.1" fill="#26a69a"/><rect x="1134.70" y="769.3" width="3.8" height="2.7" fill="#26a69a"/><rect x="1140.10" y="771.1" width="3.8" height="0.9" fill="#b2dfdb"/><rect x="1145.30" y="767.0" width="3.8" height="5.0" fill="#26a69a"/><rect x="1151.10" y="763.9" width="3.8" height="8.1" fill="#26a69a"/><rect x="1156.20" y="763.3" width="3.8" height="8.7" fill="#26a69a"/><rect x="1161.50" y="765.2" width="3.8" height="6.8" fill="#b2dfdb"/><rect x="1166.90" y="771.6" width="3.8" height="0.6" fill="#b2dfdb"/><rect x="1172.50" y="772.0" width="3.8" height="5.7" fill="#ff5252"/><rect x="1178.10" y="772.0" width="3.8" height="8.6" fill="#ff5252"/><rect x="1183.50" y="772.0" width="3.8" height="9.4" fill="#ff5252"/><rect x="1188.90" y="772.0" width="3.8" height="12.4" fill="#ff5252"/><rect x="1194.00" y="772.0" width="3.8" height="12.8" fill="#ff5252"/><rect x="1199.60" y="772.0" width="3.8" height="11.9" fill="#ffcdd2"/><rect x="1205.20" y="772.0" width="3.8" height="12.8" fill="#ff5252"/><rect x="1210.60" y="772.0" width="3.8" height="13.6" fill="#ff5252"/><rect x="1216.00" y="772.0" width="3.8" height="14.1" fill="#ff5252"/><rect x="1221.60" y="772.0" width="3.8" height="12.8" fill="#ffcdd2"/><rect x="1226.70" y="772.0" width="3.8" height="13.1" fill="#ffcdd2"/><rect x="1232.20" y="772.0" width="3.8" height="13.1" fill="#ffcdd2"/><rect x="1237.30" y="772.0" width="3.8" height="12.4" fill="#ffcdd2"/><rect x="1242.70" y="772.0" width="3.8" height="10.8" fill="#ffcdd2"/><rect x="1248.10" y="772.0" width="3.8" height="9.1" fill="#ffcdd2"/><rect x="1253.70" y="772.0" width="3.8" height="9.1" fill="#ffcdd2"/><rect x="1258.80" y="772.0" width="3.8" height="9.4" fill="#ff5252"/><rect x="1264.20" y="772.0" width="3.8" height="10.8" fill="#ff5252"/><rect x="1269.80" y="772.0" width="3.8" height="8.6" fill="#ffcdd2"/><rect x="1275.20" y="772.0" width="3.8" height="6.5" fill="#ffcdd2"/><rect x="1280.30" y="772.0" width="3.8" height="3.5" fill="#ffcdd2"/><rect x="1285.90" y="772.0" width="3.8" height="1.3" fill="#ffcdd2"/><rect x="1291.80" y="772.0" width="3.8" height="0.6" fill="#b2dfdb"/><rect x="1296.90" y="771.6" width="3.8" height="0.6" fill="#26a69a"/><rect x="1302.30" y="771.2" width="3.8" height="0.8" fill="#26a69a"/><rect x="1307.40" y="770.9" width="3.8" height="1.1" fill="#26a69a"/><rect x="1313.00" y="772.0" width="3.8" height="0.6" fill="#ff5252"/><rect x="1318.60" y="772.0" width="3.8" height="0.6" fill="#ffcdd2"/><rect x="1323.60" y="770.9" width="3.8" height="1.1" fill="#26a69a"/><rect x="1329.10" y="770.1" width="3.8" height="1.9" fill="#26a69a"/><rect x="1334.10" y="770.4" width="3.8" height="1.6" fill="#b2dfdb"/><rect x="1339.70" y="770.1" width="3.8" height="1.9" fill="#26a69a"/><rect x="1345.10" y="769.9" width="3.8" height="2.1" fill="#b2dfdb"/><rect x="1350.70" y="768.7" width="3.8" height="3.3" fill="#26a69a"/><rect x="1356.10" y="767.0" width="3.8" height="5.0" fill="#26a69a"/><rect x="1361.20" y="767.0" width="3.8" height="5.0" fill="#26a69a"/><rect x="1366.80" y="766.5" width="3.8" height="5.5" fill="#26a69a"/><rect x="1372.20" y="766.5" width="3.8" height="5.5" fill="#b2dfdb"/><rect x="1377.80" y="767.0" width="3.8" height="5.0" fill="#b2dfdb"/><rect x="1383.20" y="768.2" width="3.8" height="3.8" fill="#b2dfdb"/><rect x="1388.60" y="770.1" width="3.8" height="1.9" fill="#b2dfdb"/><rect x="1393.90" y="771.2" width="3.8" height="0.8" fill="#b2dfdb"/><rect x="1399.30" y="772.0" width="3.8" height="1.8" fill="#ff5252"/><rect x="1404.70" y="772.0" width="3.8" height="3.8" fill="#ff5252"/><path d="M9.7,794.0C10.8,794.0 16.0,794.1 19.1,794.3C22.2,794.5 32.8,795.8 36.3,795.6C39.8,795.4 45.2,793.8 48.8,792.8C52.4,791.8 63.0,788.0 67.5,786.7C72.0,785.4 83.4,783.3 87.8,781.5C92.2,779.7 100.8,773.9 105.0,771.4C109.2,768.9 119.1,762.7 123.8,759.7C128.5,756.7 141.2,747.8 145.6,745.6C150.0,743.4 157.6,741.6 161.3,740.9C165.0,740.2 173.3,739.8 176.9,739.8C180.5,739.8 188.9,741.3 192.5,740.6C196.1,739.9 204.4,735.2 208.1,733.9C211.8,732.6 220.7,730.2 223.8,729.5C226.9,728.8 232.8,728.2 234.7,728.1C236.6,728.0 238.1,728.1 240.0,728.4C241.9,728.7 248.0,729.6 250.9,730.4C253.8,731.2 262.6,734.7 265.0,735.4C267.4,736.1 268.7,736.1 271.3,736.7C273.9,737.3 282.5,739.7 286.9,740.9C291.3,742.1 305.2,745.5 308.8,746.7C312.4,747.9 315.2,750.0 318.1,751.1C321.0,752.2 329.6,754.6 333.8,756.5C338.0,758.4 350.5,765.7 354.1,767.5C357.7,769.3 361.9,771.1 365.0,771.8C368.1,772.5 376.9,772.8 380.6,773.3C384.3,773.8 392.6,775.4 396.3,776.1C400.0,776.8 408.3,778.5 411.9,779.2C415.5,779.9 423.9,781.3 427.5,782.3C431.1,783.3 439.4,786.8 443.1,787.8C446.8,788.8 455.7,790.4 458.8,790.9C461.9,791.4 466.9,791.7 470.0,791.7C473.1,791.7 481.9,791.5 485.6,791.2C489.3,790.9 497.6,789.6 501.3,789.3C505.0,789.0 513.6,788.5 516.9,788.3C520.2,788.1 526.7,787.9 529.4,787.3C532.1,786.7 537.2,784.6 540.3,783.1C543.4,781.6 552.2,776.6 555.9,774.5C559.6,772.4 567.9,767.3 571.6,765.4C575.3,763.5 583.6,759.5 587.2,758.1C590.8,756.7 599.2,754.0 602.8,753.1C606.4,752.2 614.9,750.6 618.4,750.3C621.9,750.0 629.4,749.9 632.5,750.3C635.6,750.7 641.2,751.6 645.0,753.4C648.8,755.2 661.1,763.4 665.3,765.9C669.5,768.4 677.6,773.4 680.9,774.8C684.2,776.2 691.2,777.5 693.4,777.9C695.6,778.3 697.4,778.5 700.0,778.4C702.6,778.3 711.9,777.1 715.6,776.8C719.3,776.5 727.6,775.9 731.3,775.8C735.0,775.7 742.9,775.6 746.9,775.8C750.9,776.0 761.6,777.5 765.6,777.9C769.6,778.3 777.1,778.7 781.3,779.2C785.5,779.7 796.5,781.8 801.6,782.6C806.7,783.4 820.5,785.7 825.0,786.2C829.5,786.7 836.9,786.9 840.6,787.0C844.3,787.1 852.6,787.3 856.3,787.0C860.0,786.7 867.4,785.4 871.9,784.2C876.4,783.0 889.8,778.2 895.3,776.8C900.8,775.4 914.8,772.9 918.8,772.2C922.8,771.5 926.9,770.7 930.0,771.1C933.1,771.5 941.9,774.4 945.6,775.3C949.3,776.2 956.7,777.7 961.3,778.4C965.9,779.1 979.2,781.3 984.7,781.5C990.2,781.7 1003.0,780.6 1008.1,780.0C1013.2,779.4 1024.7,776.6 1028.4,776.1C1032.1,775.6 1036.7,776.3 1039.4,775.8C1042.1,775.3 1049.0,773.9 1051.9,772.2C1054.8,770.5 1060.4,763.5 1064.4,761.2C1068.4,758.9 1082.3,753.6 1086.3,752.3C1090.3,751.0 1095.2,750.3 1098.8,750.3C1102.4,750.3 1113.5,752.1 1117.5,752.3C1121.5,752.5 1129.4,752.2 1133.1,751.8C1136.8,751.4 1145.7,750.0 1148.8,749.2C1151.9,748.4 1157.9,745.6 1160.0,745.0C1162.1,744.4 1164.0,743.3 1166.8,743.8C1169.6,744.3 1179.2,747.6 1183.7,749.6C1188.2,751.6 1200.6,758.1 1205.7,761.1C1210.8,764.1 1223.2,772.7 1227.7,775.5C1232.2,778.3 1240.6,782.8 1244.6,784.8C1248.6,786.8 1257.6,791.4 1261.6,792.9C1265.6,794.4 1274.6,797.3 1278.5,798.0C1282.4,798.7 1291.5,799.1 1295.4,799.2C1299.3,799.3 1308.3,798.9 1312.3,798.7C1316.3,798.5 1325.3,797.5 1329.3,797.1C1333.3,796.7 1342.3,795.9 1346.2,795.3C1350.1,794.7 1359.2,792.5 1363.1,791.6C1367.0,790.7 1376.4,788.3 1380.0,787.7C1383.6,787.1 1390.5,786.4 1393.6,786.5C1396.7,786.6 1405.1,788.3 1406.6,788.5" fill="none" stroke="#f23645" stroke-width="1.2" stroke-linejoin="round" /><path d="M9.7,794.8C10.8,794.7 17.4,794.0 19.1,794.3C20.8,794.6 22.6,796.9 24.5,797.2C26.4,797.5 33.0,797.8 35.5,797.2C38.0,796.6 43.1,793.3 45.6,791.7C48.1,790.1 54.0,784.7 56.6,783.4C59.2,782.1 65.0,780.8 67.5,780.3C70.0,779.8 75.8,780.0 78.4,779.2C81.0,778.4 86.8,775.5 89.4,773.7C92.0,771.9 97.9,766.0 100.3,763.6C102.7,761.2 107.0,755.9 109.7,753.4C112.4,750.9 120.5,744.3 123.8,742.5C127.1,740.7 135.1,738.8 137.8,737.8C140.5,736.8 144.6,734.5 147.2,734.3C149.8,734.1 157.5,736.0 159.7,736.2C161.9,736.4 164.1,735.3 165.9,735.8C167.7,736.3 172.3,739.5 175.3,740.1C178.3,740.7 187.9,742.6 191.7,741.2C195.5,739.8 204.4,730.5 208.1,728.4C211.8,726.3 221.2,723.8 223.8,723.3C226.4,722.8 228.2,723.0 230.0,723.7C231.8,724.4 237.0,727.8 239.4,729.2C241.8,730.6 248.3,733.8 250.9,735.4C253.5,737.0 259.3,741.9 261.9,742.5C264.5,743.1 270.8,740.2 272.8,740.4C274.8,740.6 276.5,743.5 279.1,744.5C281.7,745.5 292.0,748.4 294.7,749.0C297.4,749.6 300.7,749.2 302.5,749.8C304.3,750.4 308.7,752.7 310.3,753.9C311.9,755.1 314.3,759.6 315.8,760.4C317.3,761.2 320.7,760.4 322.8,760.9C324.9,761.4 331.4,763.8 333.8,765.1C336.2,766.4 340.9,770.5 343.1,772.2C345.3,773.9 349.9,778.6 352.5,779.5C355.1,780.4 362.3,781.0 365.0,780.3C367.7,779.6 373.7,774.5 375.9,773.7C378.1,772.9 381.4,772.7 383.8,773.3C386.2,773.9 393.0,777.9 396.3,779.2C399.6,780.5 408.4,783.3 411.9,784.2C415.4,785.1 422.6,786.0 425.9,787.3C429.2,788.6 437.3,794.7 440.0,795.3C442.7,795.9 446.8,792.6 449.4,792.5C452.0,792.4 459.5,794.2 461.9,794.3C464.3,794.4 467.6,794.1 470.0,793.6C472.4,793.1 480.3,790.1 482.5,789.8C484.7,789.5 486.6,791.2 488.8,790.9C491.0,790.6 498.0,787.8 501.3,787.3C504.6,786.8 514.0,786.6 516.9,786.5C519.8,786.4 524.3,786.7 526.3,786.2C528.3,785.7 532.1,783.6 534.1,782.0C536.1,780.4 541.0,774.1 543.4,772.2C545.8,770.3 552.0,767.6 554.4,765.9C556.8,764.2 561.6,759.0 563.8,757.3C566.0,755.6 571.3,752.0 573.1,751.1C574.9,750.2 577.2,750.2 579.4,750.0C581.6,749.8 589.2,750.3 591.9,749.8C594.6,749.3 600.4,745.5 602.8,745.3C605.2,745.1 609.1,747.8 612.2,748.3C615.3,748.8 625.9,748.7 629.4,750.0C632.9,751.3 639.0,757.1 641.9,759.7C644.8,762.3 651.8,769.8 654.4,772.2C657.0,774.6 661.6,778.7 663.8,780.0C666.0,781.3 670.8,782.5 673.1,783.1C675.4,783.7 680.9,785.6 683.3,785.4C685.7,785.2 691.5,782.5 693.4,781.8C695.3,781.1 698.6,779.7 700.0,779.2C701.4,778.7 704.2,777.5 705.5,777.3C706.8,777.1 709.1,778.3 710.9,777.9C712.7,777.5 718.7,774.3 721.1,774.0C723.5,773.7 728.8,775.2 731.3,775.3C733.8,775.4 739.7,774.4 742.2,774.8C744.7,775.2 750.5,777.6 753.1,778.4C755.7,779.2 761.5,781.4 764.1,781.5C766.7,781.6 773.2,779.2 775.0,778.9C776.8,778.6 778.5,778.5 779.7,778.9C780.9,779.3 783.2,781.4 785.2,782.0C787.2,782.6 794.1,783.7 796.9,784.3C799.7,784.9 806.3,786.4 809.4,787.0C812.5,787.6 819.8,789.1 823.4,789.3C827.0,789.5 837.1,788.5 840.6,788.3C844.1,788.1 850.7,787.8 853.1,787.3C855.5,786.8 858.7,784.8 860.9,783.9C863.1,783.0 868.8,780.6 871.9,779.2C875.0,777.8 883.9,772.7 887.5,771.8C891.1,770.9 900.2,771.7 903.1,771.4C906.0,771.1 909.8,769.2 912.5,769.0C915.2,768.8 924.6,769.3 926.6,769.5C928.6,769.7 928.1,769.8 930.0,770.6C931.9,771.4 939.8,774.9 942.5,776.1C945.2,777.3 950.8,780.2 953.4,781.2C956.0,782.2 961.3,783.9 964.4,784.3C967.5,784.7 976.7,784.7 980.0,784.3C983.3,783.9 989.4,781.4 992.5,780.8C995.6,780.2 1004.2,779.7 1006.6,779.2C1009.0,778.7 1010.8,776.8 1012.8,776.1C1014.8,775.4 1022.0,773.5 1023.8,772.9C1025.6,772.3 1027.2,770.9 1028.4,771.1C1029.6,771.3 1032.6,773.8 1033.9,774.5C1035.2,775.2 1038.0,777.3 1039.4,776.8C1040.8,776.3 1043.8,772.8 1045.6,769.8C1047.4,766.8 1053.2,753.4 1055.0,750.8C1056.8,748.2 1059.5,747.8 1061.3,747.6C1063.1,747.4 1068.8,749.0 1070.6,749.2C1072.4,749.4 1075.1,749.6 1076.9,749.0C1078.7,748.4 1083.9,743.6 1086.3,743.7C1088.7,743.8 1093.9,748.3 1097.2,749.5C1100.5,750.7 1111.1,753.8 1114.4,754.2C1117.7,754.6 1122.7,753.5 1125.3,752.9C1127.9,752.3 1134.3,749.5 1136.3,749.2C1138.3,748.9 1140.0,751.7 1142.5,750.3C1145.0,748.9 1155.7,738.5 1158.1,737.0C1160.5,735.5 1161.6,735.9 1163.4,737.4C1165.2,738.9 1171.1,747.6 1173.5,750.1C1175.9,752.6 1181.7,756.7 1183.7,758.5C1185.7,760.3 1188.1,763.7 1190.5,765.3C1192.9,766.9 1200.5,769.8 1204.0,772.1C1207.5,774.4 1216.7,782.2 1220.9,784.8C1225.1,787.4 1236.2,793.3 1239.6,794.6C1243.0,795.9 1246.6,794.6 1249.7,795.8C1252.8,797.0 1262.6,803.6 1265.8,804.6C1269.0,805.6 1274.1,805.1 1276.8,804.6C1279.5,804.1 1284.8,801.2 1288.6,800.4C1292.4,799.6 1305.8,797.9 1309.0,797.8C1312.2,797.7 1314.1,799.5 1315.7,799.7C1317.3,799.9 1320.7,799.7 1322.5,799.2C1324.3,798.7 1328.2,796.4 1331.0,795.8C1333.8,795.2 1342.9,794.9 1346.2,794.1C1349.5,793.3 1355.8,790.2 1359.7,789.0C1363.6,787.8 1376.0,784.2 1380.0,783.9C1384.0,783.6 1390.5,785.5 1393.6,786.5C1396.7,787.5 1405.1,791.7 1406.6,792.4" fill="none" stroke="#2962ff" stroke-width="1.2" stroke-linejoin="round" /></g><text x="1467" y="84.5" fill="#131722" font-size="12.4" font-family="Liberation Sans, sans-serif">525.0</text><text x="1467" y="114.9" fill="#131722" font-size="12.4" font-family="Liberation Sans, sans-serif">500.0</text><text x="1467" y="145.3" fill="#131722" font-size="12.4" font-family="Liberation Sans, sans-serif">475.0</text><text x="1467" y="175.8" fill="#131722" font-size="12.4" font-family="Liberation Sans, sans-serif">450.0</text><text x="1467" y="206.2" fill="#131722" font-size="12.4" font-family="Liberation Sans, sans-serif">425.0</text><text x="1467" y="236.6" fill="#131722" font-size="12.4" font-family="Liberation Sans, sans-serif">400.0</text><text x="1467" y="267.0" fill="#131722" font-size="12.4" font-family="Liberation Sans, sans-serif">375.0</text><text x="1467" y="358.3" fill="#131722" font-size="12.4" font-family="Liberation Sans, sans-serif">300.0</text><text x="1467" y="388.7" fill="#131722" font-size="12.4" font-family="Liberation Sans, sans-serif">275.0</text><text x="1467" y="480.0" fill="#131722" font-size="12.4" font-family="Liberation Sans, sans-serif">200.0</text><text x="1467" y="510.4" fill="#131722" font-size="12.4" font-family="Liberation Sans, sans-serif">175.0</text><text x="1467" y="540.8" fill="#131722" font-size="12.4" font-family="Liberation Sans, sans-serif">150.0</text><text x="1467" y="571.2" fill="#131722" font-size="12.4" font-family="Liberation Sans, sans-serif">125.0</text><rect x="1425.5" y="55" width="33" height="15" rx="2" fill="#dfeafc"/><text x="1430.3" y="66.7" fill="#131722" font-size="12" font-family="Liberation Sans, sans-serif">High</text><rect x="1460" y="55" width="44" height="15" rx="2" fill="#dfeafc"/><text x="1467" y="66.8" fill="#131722" font-size="12.4" font-family="Liberation Sans, sans-serif">539.4</text><rect x="1460" y="289" width="44" height="16" rx="2" fill="#0000ff"/><text x="1467" y="301.3" fill="#fff" font-size="12.4" font-family="Liberation Sans, sans-serif">346.7</text><rect x="1460" y="318" width="44" height="16" rx="2" fill="#000000"/><text x="1467" y="330.3" fill="#fff" font-size="12.4" font-family="Liberation Sans, sans-serif">317.4</text><rect x="1460" y="334" width="44" height="16" rx="2" fill="#ff7f00"/><text x="1467" y="346.3" fill="#fff" font-size="12.4" font-family="Liberation Sans, sans-serif">309.8</text><rect x="1460" y="402" width="44" height="16" rx="2" fill="#000000"/><text x="1467" y="414.3" fill="#fff" font-size="12.4" font-family="Liberation Sans, sans-serif">254.2</text><rect x="1460" y="429" width="62" height="29" rx="2" fill="#000"/><text x="1467" y="441.3" fill="#fff" font-size="12.4" font-family="Liberation Sans, sans-serif">232.3</text><text x="1467" y="454.3" fill="#e8e8e8" font-size="12.4" font-family="Liberation Sans, sans-serif">22:18:14</text><rect x="1460" y="458" width="44" height="16" rx="2" fill="#000000"/><text x="1467" y="470.3" fill="#fff" font-size="12.4" font-family="Liberation Sans, sans-serif">222.4</text><rect x="1460" y="507" width="44" height="16" rx="2" fill="#000000"/><text x="1467" y="519.3" fill="#fff" font-size="12.4" font-family="Liberation Sans, sans-serif">167.8</text><rect x="1429" y="541" width="29.5" height="15" rx="2" fill="#dfeafc"/><text x="1433" y="552.7" fill="#131722" font-size="12" font-family="Liberation Sans, sans-serif">Low</text><rect x="1460" y="541" width="44" height="15" rx="2" fill="#dfeafc"/><text x="1467" y="552.8" fill="#131722" font-size="12.4" font-family="Liberation Sans, sans-serif">140.0</text><text x="1467" y="606.8" fill="#131722" font-size="12.4" font-family="Liberation Sans, sans-serif">80.00</text><text x="1467" y="646.8" fill="#131722" font-size="12.4" font-family="Liberation Sans, sans-serif">60.00</text><rect x="1459.5" y="671" width="44" height="16" rx="2" fill="#f9d23c"/><text x="1467" y="683.3" fill="#131722" font-size="12.4" font-family="Liberation Sans, sans-serif">41.49</text><rect x="1459.5" y="693" width="44" height="16" rx="2" fill="#7e57c2"/><text x="1467" y="705.3" fill="#fff" font-size="12.4" font-family="Liberation Sans, sans-serif">30.55</text><g clip-path="url(#cda)"><text x="1467" y="719.2" fill="#131722" font-size="12.4" font-family="Liberation Sans, sans-serif">50.0</text></g><text x="1467" y="747.6" fill="#131722" font-size="12.4" font-family="Liberation Sans, sans-serif">25.0</text><rect x="1459.5" y="767.6" width="37.5" height="15.699999999999932" rx="2" fill="#f7525f"/><text x="1467" y="779.8" fill="#fff" font-size="12.4" font-family="Liberation Sans, sans-serif">−3.1</text><rect x="1459.5" y="783.5" width="44" height="15.799999999999955" rx="2" fill="#f23645"/><text x="1467" y="795.7" fill="#fff" font-size="12.4" font-family="Liberation Sans, sans-serif">−14.6</text><g clip-path="url(#cda)"><rect x="1459.5" y="800" width="44" height="16" rx="2" fill="#2962ff"/><text x="1467" y="812.3" fill="#fff" font-size="12.4" font-family="Liberation Sans, sans-serif">−17.7</text></g><text x="159.4" y="832.6" fill="#131722" font-size="12" font-weight="bold" text-anchor="middle" font-family="Liberation Sans, sans-serif">May</text><text x="326.8" y="832.6" fill="#131722" font-size="12" font-weight="bold" text-anchor="middle" font-family="Liberation Sans, sans-serif">Jun</text><text x="488.0" y="832.6" fill="#131722" font-size="12" font-weight="bold" text-anchor="middle" font-family="Liberation Sans, sans-serif">Jul</text><text x="656.0" y="832.6" fill="#131722" font-size="12" font-weight="bold" text-anchor="middle" font-family="Liberation Sans, sans-serif">Aug</text><text x="823.0" y="832.6" fill="#131722" font-size="12" font-weight="bold" text-anchor="middle" font-family="Liberation Sans, sans-serif">Sep</text><text x="985.7" y="832.6" fill="#131722" font-size="12" font-weight="bold" text-anchor="middle" font-family="Liberation Sans, sans-serif">Oct</text><text x="1153.0" y="832.6" fill="#131722" font-size="12" font-weight="bold" text-anchor="middle" font-family="Liberation Sans, sans-serif">Nov</text><text x="1314.5" y="832.6" fill="#131722" font-size="12" font-weight="bold" text-anchor="middle" font-family="Liberation Sans, sans-serif">Dec</text><text x="9.7" y="18.7" fill="#131722" font-size="11.4" textLength="412" lengthAdjust="spacingAndGlyphs" font-family="Liberation Sans, sans-serif">CryptoFXStreet created with TradingView.com, Dec 18, 2025 07:11 UTC+5:30</text><text x="17.3" y="44.8" fill="#131722" font-size="12.4" textLength="156.0" lengthAdjust="spacingAndGlyphs" font-family="Liberation Sans, sans-serif">TAO / TetherUS · 1D · Binance</text><text x="181" y="44.8" fill="#131722" font-size="12.4" textLength="38.3" lengthAdjust="spacingAndGlyphs" font-family="Liberation Sans, sans-serif">O238.7</text><text x="226.7" y="44.8" fill="#131722" font-size="12.4" textLength="38.3" lengthAdjust="spacingAndGlyphs" font-family="Liberation Sans, sans-serif">H239.5</text><text x="271.7" y="44.8" fill="#131722" font-size="12.4" textLength="35.0" lengthAdjust="spacingAndGlyphs" font-family="Liberation Sans, sans-serif">L231.5</text><text x="313.3" y="44.8" fill="#131722" font-size="12.4" textLength="38.4" lengthAdjust="spacingAndGlyphs" font-family="Liberation Sans, sans-serif">C232.3</text><text x="359" y="44.8" fill="#131722" font-size="12.4" textLength="75.3" lengthAdjust="spacingAndGlyphs" font-family="Liberation Sans, sans-serif">−6.5 (−2.72%)</text><rect x="1462.5" y="29.5" width="60" height="24.5" rx="4" fill="#fff" stroke="#f0f1f4"/><text x="1486" y="45.8" fill="#131722" font-size="12" text-anchor="middle" font-family="Liberation Sans, sans-serif">USDT</text><path d="M11.2 861.1H22.4V874.9H17V866.3H11.2Z" fill="#131722"/><circle cx="27.6" cy="863.8" r="2.5" fill="#131722"/><path d="M31 861.1H39.2L35.2 874.9H27.6Z" fill="#131722"/><text x="46.4" y="874.9" fill="#131722" font-size="19" font-weight="bold" textLength="113.3" lengthAdjust="spacingAndGlyphs" font-family="Liberation Sans, sans-serif">TradingView</text></svg>
</body></html>
